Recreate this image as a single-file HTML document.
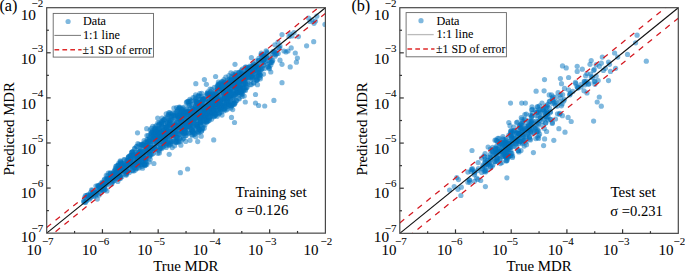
<!DOCTYPE html><html><head><meta charset="utf-8"><style>html,body{margin:0;padding:0;background:#fff;width:685px;height:271px;overflow:hidden}svg{display:block;font-family:"Liberation Serif", serif}text{stroke:#000;stroke-width:0.05px;fill:#000}</style></head><body>
<svg width="685" height="271" viewBox="0 0 685 271" font-family='"Liberation Serif", serif' fill="#111">
<defs><clipPath id="ca"><rect x="46.70" y="7.70" width="278.70" height="225.45"/></clipPath><clipPath id="cb"><rect x="399.80" y="7.70" width="278.50" height="225.65"/></clipPath></defs>
<rect width="685" height="271" fill="#fff"/>
<g clip-path="url(#ca)" fill="#0072BD" fill-opacity="0.5">
<circle cx="83.6" cy="201.8" r="2.6"/>
<circle cx="84.0" cy="200.7" r="2.6"/>
<circle cx="84.6" cy="197.6" r="2.6"/>
<circle cx="84.6" cy="202.1" r="2.6"/>
<circle cx="86.4" cy="199.7" r="2.6"/>
<circle cx="85.5" cy="202.5" r="2.6"/>
<circle cx="86.6" cy="195.6" r="2.6"/>
<circle cx="86.7" cy="200.7" r="2.6"/>
<circle cx="87.6" cy="195.2" r="2.6"/>
<circle cx="88.2" cy="194.9" r="2.6"/>
<circle cx="89.0" cy="197.2" r="2.6"/>
<circle cx="89.2" cy="199.2" r="2.6"/>
<circle cx="90.0" cy="198.2" r="2.6"/>
<circle cx="90.5" cy="195.2" r="2.6"/>
<circle cx="90.3" cy="194.7" r="2.6"/>
<circle cx="90.5" cy="192.5" r="2.6"/>
<circle cx="91.4" cy="195.3" r="2.6"/>
<circle cx="91.1" cy="197.0" r="2.6"/>
<circle cx="92.3" cy="190.3" r="2.6"/>
<circle cx="91.6" cy="189.8" r="2.6"/>
<circle cx="92.1" cy="195.2" r="2.6"/>
<circle cx="93.2" cy="193.2" r="2.6"/>
<circle cx="92.7" cy="193.4" r="2.6"/>
<circle cx="93.6" cy="196.4" r="2.6"/>
<circle cx="94.4" cy="192.1" r="2.6"/>
<circle cx="94.0" cy="192.7" r="2.6"/>
<circle cx="95.4" cy="196.1" r="2.6"/>
<circle cx="94.9" cy="191.8" r="2.6"/>
<circle cx="94.7" cy="194.7" r="2.6"/>
<circle cx="96.1" cy="192.0" r="2.6"/>
<circle cx="95.9" cy="186.1" r="2.6"/>
<circle cx="96.5" cy="193.0" r="2.6"/>
<circle cx="97.1" cy="191.1" r="2.6"/>
<circle cx="97.3" cy="199.1" r="2.6"/>
<circle cx="97.3" cy="194.3" r="2.6"/>
<circle cx="98.1" cy="186.1" r="2.6"/>
<circle cx="97.7" cy="185.7" r="2.6"/>
<circle cx="97.6" cy="189.1" r="2.6"/>
<circle cx="98.9" cy="185.5" r="2.6"/>
<circle cx="99.1" cy="195.1" r="2.6"/>
<circle cx="98.8" cy="187.4" r="2.6"/>
<circle cx="99.3" cy="185.8" r="2.6"/>
<circle cx="99.6" cy="188.4" r="2.6"/>
<circle cx="100.3" cy="187.0" r="2.6"/>
<circle cx="100.5" cy="184.0" r="2.6"/>
<circle cx="100.5" cy="189.9" r="2.6"/>
<circle cx="101.5" cy="189.5" r="2.6"/>
<circle cx="100.9" cy="188.4" r="2.6"/>
<circle cx="101.0" cy="192.7" r="2.6"/>
<circle cx="102.3" cy="184.5" r="2.6"/>
<circle cx="102.4" cy="185.2" r="2.6"/>
<circle cx="101.7" cy="190.4" r="2.6"/>
<circle cx="101.9" cy="182.4" r="2.6"/>
<circle cx="102.8" cy="183.7" r="2.6"/>
<circle cx="103.4" cy="190.4" r="2.6"/>
<circle cx="103.5" cy="185.4" r="2.6"/>
<circle cx="102.7" cy="183.0" r="2.6"/>
<circle cx="103.1" cy="182.8" r="2.6"/>
<circle cx="104.3" cy="179.8" r="2.6"/>
<circle cx="104.4" cy="187.1" r="2.6"/>
<circle cx="104.3" cy="185.8" r="2.6"/>
<circle cx="103.8" cy="187.9" r="2.6"/>
<circle cx="104.9" cy="189.6" r="2.6"/>
<circle cx="105.2" cy="189.3" r="2.6"/>
<circle cx="104.7" cy="179.0" r="2.6"/>
<circle cx="105.3" cy="184.4" r="2.6"/>
<circle cx="105.9" cy="180.3" r="2.6"/>
<circle cx="106.5" cy="182.7" r="2.6"/>
<circle cx="106.0" cy="182.8" r="2.6"/>
<circle cx="106.3" cy="175.4" r="2.6"/>
<circle cx="106.7" cy="178.3" r="2.6"/>
<circle cx="106.8" cy="183.9" r="2.6"/>
<circle cx="107.4" cy="176.2" r="2.6"/>
<circle cx="107.1" cy="180.4" r="2.6"/>
<circle cx="108.0" cy="184.8" r="2.6"/>
<circle cx="107.9" cy="178.8" r="2.6"/>
<circle cx="108.3" cy="173.2" r="2.6"/>
<circle cx="108.2" cy="179.1" r="2.6"/>
<circle cx="109.1" cy="178.4" r="2.6"/>
<circle cx="108.6" cy="178.1" r="2.6"/>
<circle cx="109.3" cy="178.2" r="2.6"/>
<circle cx="109.1" cy="181.2" r="2.6"/>
<circle cx="110.0" cy="172.8" r="2.6"/>
<circle cx="110.2" cy="179.5" r="2.6"/>
<circle cx="110.4" cy="173.4" r="2.6"/>
<circle cx="110.4" cy="176.8" r="2.6"/>
<circle cx="111.4" cy="178.0" r="2.6"/>
<circle cx="110.9" cy="178.5" r="2.6"/>
<circle cx="110.6" cy="173.8" r="2.6"/>
<circle cx="111.3" cy="178.7" r="2.6"/>
<circle cx="112.2" cy="179.6" r="2.6"/>
<circle cx="112.5" cy="181.8" r="2.6"/>
<circle cx="111.9" cy="182.8" r="2.6"/>
<circle cx="111.7" cy="184.1" r="2.6"/>
<circle cx="112.8" cy="175.7" r="2.6"/>
<circle cx="113.2" cy="173.7" r="2.6"/>
<circle cx="112.9" cy="176.9" r="2.6"/>
<circle cx="113.1" cy="173.9" r="2.6"/>
<circle cx="113.3" cy="180.8" r="2.6"/>
<circle cx="113.5" cy="172.2" r="2.6"/>
<circle cx="113.9" cy="175.3" r="2.6"/>
<circle cx="114.3" cy="177.8" r="2.6"/>
<circle cx="114.4" cy="170.5" r="2.6"/>
<circle cx="113.6" cy="175.0" r="2.6"/>
<circle cx="115.4" cy="168.3" r="2.6"/>
<circle cx="115.3" cy="173.0" r="2.6"/>
<circle cx="114.6" cy="180.4" r="2.6"/>
<circle cx="115.1" cy="170.9" r="2.6"/>
<circle cx="114.8" cy="176.1" r="2.6"/>
<circle cx="115.7" cy="174.4" r="2.6"/>
<circle cx="115.8" cy="169.4" r="2.6"/>
<circle cx="115.8" cy="178.5" r="2.6"/>
<circle cx="115.7" cy="176.6" r="2.6"/>
<circle cx="115.8" cy="166.4" r="2.6"/>
<circle cx="116.1" cy="178.1" r="2.6"/>
<circle cx="117.3" cy="175.8" r="2.6"/>
<circle cx="117.3" cy="173.5" r="2.6"/>
<circle cx="117.2" cy="173.7" r="2.6"/>
<circle cx="116.8" cy="172.7" r="2.6"/>
<circle cx="116.9" cy="171.7" r="2.6"/>
<circle cx="116.6" cy="165.9" r="2.6"/>
<circle cx="117.8" cy="165.6" r="2.6"/>
<circle cx="118.3" cy="165.4" r="2.6"/>
<circle cx="117.7" cy="170.9" r="2.6"/>
<circle cx="117.7" cy="172.2" r="2.6"/>
<circle cx="118.5" cy="168.6" r="2.6"/>
<circle cx="118.0" cy="169.1" r="2.6"/>
<circle cx="117.8" cy="181.5" r="2.6"/>
<circle cx="119.0" cy="170.0" r="2.6"/>
<circle cx="118.5" cy="174.4" r="2.6"/>
<circle cx="118.9" cy="164.4" r="2.6"/>
<circle cx="118.8" cy="163.1" r="2.6"/>
<circle cx="119.0" cy="174.0" r="2.6"/>
<circle cx="119.2" cy="178.7" r="2.6"/>
<circle cx="118.8" cy="176.4" r="2.6"/>
<circle cx="120.1" cy="176.2" r="2.6"/>
<circle cx="120.4" cy="178.5" r="2.6"/>
<circle cx="120.2" cy="167.6" r="2.6"/>
<circle cx="120.0" cy="176.3" r="2.6"/>
<circle cx="120.3" cy="177.2" r="2.6"/>
<circle cx="120.2" cy="160.8" r="2.6"/>
<circle cx="120.6" cy="161.7" r="2.6"/>
<circle cx="121.3" cy="163.1" r="2.6"/>
<circle cx="121.1" cy="164.7" r="2.6"/>
<circle cx="120.5" cy="168.1" r="2.6"/>
<circle cx="121.2" cy="164.8" r="2.6"/>
<circle cx="120.6" cy="162.6" r="2.6"/>
<circle cx="120.8" cy="169.0" r="2.6"/>
<circle cx="121.7" cy="174.6" r="2.6"/>
<circle cx="121.9" cy="176.7" r="2.6"/>
<circle cx="122.2" cy="169.2" r="2.6"/>
<circle cx="121.6" cy="164.1" r="2.6"/>
<circle cx="122.2" cy="165.4" r="2.6"/>
<circle cx="121.5" cy="171.5" r="2.6"/>
<circle cx="122.2" cy="165.7" r="2.6"/>
<circle cx="122.8" cy="164.1" r="2.6"/>
<circle cx="122.6" cy="163.3" r="2.6"/>
<circle cx="122.7" cy="170.8" r="2.6"/>
<circle cx="123.0" cy="170.4" r="2.6"/>
<circle cx="123.5" cy="169.0" r="2.6"/>
<circle cx="122.7" cy="165.0" r="2.6"/>
<circle cx="123.6" cy="170.1" r="2.6"/>
<circle cx="124.3" cy="171.4" r="2.6"/>
<circle cx="124.4" cy="167.8" r="2.6"/>
<circle cx="124.0" cy="170.0" r="2.6"/>
<circle cx="124.0" cy="159.5" r="2.6"/>
<circle cx="123.8" cy="167.7" r="2.6"/>
<circle cx="124.5" cy="170.6" r="2.6"/>
<circle cx="125.4" cy="169.3" r="2.6"/>
<circle cx="125.4" cy="165.6" r="2.6"/>
<circle cx="124.9" cy="165.6" r="2.6"/>
<circle cx="124.9" cy="163.7" r="2.6"/>
<circle cx="124.6" cy="159.8" r="2.6"/>
<circle cx="125.7" cy="174.7" r="2.6"/>
<circle cx="125.7" cy="167.3" r="2.6"/>
<circle cx="126.4" cy="175.1" r="2.6"/>
<circle cx="126.1" cy="164.5" r="2.6"/>
<circle cx="126.2" cy="173.2" r="2.6"/>
<circle cx="126.0" cy="171.2" r="2.6"/>
<circle cx="126.8" cy="164.1" r="2.6"/>
<circle cx="126.6" cy="173.6" r="2.6"/>
<circle cx="127.2" cy="164.0" r="2.6"/>
<circle cx="126.8" cy="169.9" r="2.6"/>
<circle cx="126.9" cy="164.4" r="2.6"/>
<circle cx="126.7" cy="160.6" r="2.6"/>
<circle cx="127.7" cy="171.6" r="2.6"/>
<circle cx="127.6" cy="171.0" r="2.6"/>
<circle cx="127.8" cy="158.4" r="2.6"/>
<circle cx="127.8" cy="160.9" r="2.6"/>
<circle cx="128.4" cy="165.3" r="2.6"/>
<circle cx="128.0" cy="161.0" r="2.6"/>
<circle cx="128.8" cy="156.6" r="2.6"/>
<circle cx="128.6" cy="167.3" r="2.6"/>
<circle cx="128.7" cy="157.2" r="2.6"/>
<circle cx="128.9" cy="160.0" r="2.6"/>
<circle cx="129.3" cy="172.6" r="2.6"/>
<circle cx="128.5" cy="156.8" r="2.6"/>
<circle cx="130.1" cy="168.4" r="2.6"/>
<circle cx="130.4" cy="161.5" r="2.6"/>
<circle cx="130.4" cy="159.7" r="2.6"/>
<circle cx="129.7" cy="163.5" r="2.6"/>
<circle cx="130.2" cy="166.1" r="2.6"/>
<circle cx="130.3" cy="162.1" r="2.6"/>
<circle cx="130.1" cy="155.7" r="2.6"/>
<circle cx="131.1" cy="163.9" r="2.6"/>
<circle cx="130.8" cy="155.3" r="2.6"/>
<circle cx="130.6" cy="161.6" r="2.6"/>
<circle cx="131.1" cy="159.9" r="2.6"/>
<circle cx="131.1" cy="157.2" r="2.6"/>
<circle cx="131.0" cy="158.7" r="2.6"/>
<circle cx="131.0" cy="155.3" r="2.6"/>
<circle cx="132.2" cy="170.7" r="2.6"/>
<circle cx="132.0" cy="152.0" r="2.6"/>
<circle cx="131.9" cy="152.0" r="2.6"/>
<circle cx="132.4" cy="164.8" r="2.6"/>
<circle cx="131.8" cy="152.3" r="2.6"/>
<circle cx="131.7" cy="165.1" r="2.6"/>
<circle cx="131.7" cy="161.0" r="2.6"/>
<circle cx="132.7" cy="167.1" r="2.6"/>
<circle cx="132.8" cy="165.9" r="2.6"/>
<circle cx="133.0" cy="153.4" r="2.6"/>
<circle cx="132.9" cy="154.9" r="2.6"/>
<circle cx="132.9" cy="163.7" r="2.6"/>
<circle cx="132.6" cy="170.2" r="2.6"/>
<circle cx="132.9" cy="151.5" r="2.6"/>
<circle cx="134.2" cy="158.4" r="2.6"/>
<circle cx="133.7" cy="164.6" r="2.6"/>
<circle cx="134.2" cy="157.2" r="2.6"/>
<circle cx="133.9" cy="163.0" r="2.6"/>
<circle cx="133.7" cy="156.0" r="2.6"/>
<circle cx="133.9" cy="154.9" r="2.6"/>
<circle cx="133.7" cy="171.0" r="2.6"/>
<circle cx="135.3" cy="170.1" r="2.6"/>
<circle cx="135.0" cy="148.7" r="2.6"/>
<circle cx="134.7" cy="167.7" r="2.6"/>
<circle cx="134.5" cy="167.2" r="2.6"/>
<circle cx="135.3" cy="165.3" r="2.6"/>
<circle cx="134.6" cy="148.4" r="2.6"/>
<circle cx="135.4" cy="158.1" r="2.6"/>
<circle cx="135.5" cy="153.6" r="2.6"/>
<circle cx="135.8" cy="162.4" r="2.6"/>
<circle cx="136.3" cy="146.5" r="2.6"/>
<circle cx="136.1" cy="168.5" r="2.6"/>
<circle cx="136.0" cy="162.3" r="2.6"/>
<circle cx="136.5" cy="158.3" r="2.6"/>
<circle cx="135.9" cy="152.0" r="2.6"/>
<circle cx="136.3" cy="161.3" r="2.6"/>
<circle cx="137.3" cy="155.2" r="2.6"/>
<circle cx="136.9" cy="154.3" r="2.6"/>
<circle cx="136.6" cy="162.3" r="2.6"/>
<circle cx="136.7" cy="162.9" r="2.6"/>
<circle cx="137.1" cy="146.4" r="2.6"/>
<circle cx="137.4" cy="168.1" r="2.6"/>
<circle cx="136.6" cy="156.8" r="2.6"/>
<circle cx="137.9" cy="159.7" r="2.6"/>
<circle cx="138.1" cy="155.0" r="2.6"/>
<circle cx="138.2" cy="156.7" r="2.6"/>
<circle cx="137.8" cy="164.8" r="2.6"/>
<circle cx="137.9" cy="143.6" r="2.6"/>
<circle cx="137.7" cy="158.5" r="2.6"/>
<circle cx="138.1" cy="165.8" r="2.6"/>
<circle cx="138.5" cy="154.5" r="2.6"/>
<circle cx="139.2" cy="164.0" r="2.6"/>
<circle cx="138.6" cy="161.7" r="2.6"/>
<circle cx="139.4" cy="162.3" r="2.6"/>
<circle cx="138.6" cy="151.8" r="2.6"/>
<circle cx="139.1" cy="167.9" r="2.6"/>
<circle cx="138.9" cy="144.6" r="2.6"/>
<circle cx="139.3" cy="151.6" r="2.6"/>
<circle cx="138.6" cy="158.4" r="2.6"/>
<circle cx="139.6" cy="157.9" r="2.6"/>
<circle cx="140.1" cy="150.7" r="2.6"/>
<circle cx="139.7" cy="163.2" r="2.6"/>
<circle cx="140.2" cy="152.4" r="2.6"/>
<circle cx="139.7" cy="152.0" r="2.6"/>
<circle cx="139.6" cy="154.1" r="2.6"/>
<circle cx="140.1" cy="157.7" r="2.6"/>
<circle cx="140.2" cy="148.5" r="2.6"/>
<circle cx="141.5" cy="151.7" r="2.6"/>
<circle cx="140.9" cy="158.0" r="2.6"/>
<circle cx="141.5" cy="165.2" r="2.6"/>
<circle cx="141.2" cy="149.0" r="2.6"/>
<circle cx="141.4" cy="144.3" r="2.6"/>
<circle cx="140.9" cy="164.2" r="2.6"/>
<circle cx="141.0" cy="155.6" r="2.6"/>
<circle cx="141.1" cy="144.5" r="2.6"/>
<circle cx="141.9" cy="164.4" r="2.6"/>
<circle cx="141.6" cy="161.2" r="2.6"/>
<circle cx="142.4" cy="156.3" r="2.6"/>
<circle cx="142.3" cy="155.5" r="2.6"/>
<circle cx="142.4" cy="157.0" r="2.6"/>
<circle cx="142.0" cy="159.4" r="2.6"/>
<circle cx="141.9" cy="166.4" r="2.6"/>
<circle cx="141.7" cy="145.8" r="2.6"/>
<circle cx="143.3" cy="152.1" r="2.6"/>
<circle cx="142.7" cy="144.9" r="2.6"/>
<circle cx="143.0" cy="152.0" r="2.6"/>
<circle cx="142.7" cy="144.9" r="2.6"/>
<circle cx="143.1" cy="156.3" r="2.6"/>
<circle cx="142.5" cy="153.3" r="2.6"/>
<circle cx="143.1" cy="162.1" r="2.6"/>
<circle cx="142.8" cy="161.5" r="2.6"/>
<circle cx="143.9" cy="143.2" r="2.6"/>
<circle cx="144.1" cy="140.7" r="2.6"/>
<circle cx="143.7" cy="158.5" r="2.6"/>
<circle cx="143.7" cy="155.0" r="2.6"/>
<circle cx="143.6" cy="144.9" r="2.6"/>
<circle cx="143.6" cy="151.6" r="2.6"/>
<circle cx="143.5" cy="153.7" r="2.6"/>
<circle cx="144.3" cy="164.4" r="2.6"/>
<circle cx="143.6" cy="159.7" r="2.6"/>
<circle cx="144.6" cy="164.5" r="2.6"/>
<circle cx="145.3" cy="165.3" r="2.6"/>
<circle cx="145.0" cy="165.4" r="2.6"/>
<circle cx="145.4" cy="151.9" r="2.6"/>
<circle cx="145.4" cy="160.1" r="2.6"/>
<circle cx="145.3" cy="148.1" r="2.6"/>
<circle cx="144.8" cy="163.0" r="2.6"/>
<circle cx="145.4" cy="158.1" r="2.6"/>
<circle cx="145.0" cy="145.7" r="2.6"/>
<circle cx="145.7" cy="142.1" r="2.6"/>
<circle cx="146.2" cy="158.7" r="2.6"/>
<circle cx="145.6" cy="158.1" r="2.6"/>
<circle cx="146.1" cy="163.7" r="2.6"/>
<circle cx="146.1" cy="161.5" r="2.6"/>
<circle cx="146.5" cy="153.9" r="2.6"/>
<circle cx="145.9" cy="148.4" r="2.6"/>
<circle cx="146.1" cy="148.7" r="2.6"/>
<circle cx="145.9" cy="158.5" r="2.6"/>
<circle cx="146.8" cy="164.5" r="2.6"/>
<circle cx="147.5" cy="154.3" r="2.6"/>
<circle cx="146.5" cy="145.9" r="2.6"/>
<circle cx="147.1" cy="139.7" r="2.6"/>
<circle cx="147.4" cy="150.1" r="2.6"/>
<circle cx="147.2" cy="141.9" r="2.6"/>
<circle cx="146.9" cy="135.5" r="2.6"/>
<circle cx="146.7" cy="145.6" r="2.6"/>
<circle cx="147.1" cy="143.5" r="2.6"/>
<circle cx="147.0" cy="153.2" r="2.6"/>
<circle cx="147.6" cy="148.3" r="2.6"/>
<circle cx="148.4" cy="152.8" r="2.6"/>
<circle cx="147.5" cy="142.8" r="2.6"/>
<circle cx="148.1" cy="151.8" r="2.6"/>
<circle cx="147.9" cy="152.2" r="2.6"/>
<circle cx="148.4" cy="147.4" r="2.6"/>
<circle cx="147.9" cy="149.0" r="2.6"/>
<circle cx="148.3" cy="135.7" r="2.6"/>
<circle cx="148.4" cy="149.5" r="2.6"/>
<circle cx="148.1" cy="139.7" r="2.6"/>
<circle cx="149.3" cy="140.4" r="2.6"/>
<circle cx="148.8" cy="141.3" r="2.6"/>
<circle cx="149.3" cy="157.1" r="2.6"/>
<circle cx="149.2" cy="162.0" r="2.6"/>
<circle cx="149.2" cy="147.1" r="2.6"/>
<circle cx="148.7" cy="147.1" r="2.6"/>
<circle cx="149.2" cy="142.0" r="2.6"/>
<circle cx="149.3" cy="150.2" r="2.6"/>
<circle cx="148.9" cy="145.5" r="2.6"/>
<circle cx="149.8" cy="154.8" r="2.6"/>
<circle cx="150.4" cy="150.2" r="2.6"/>
<circle cx="149.7" cy="138.5" r="2.6"/>
<circle cx="150.4" cy="143.7" r="2.6"/>
<circle cx="149.8" cy="137.3" r="2.6"/>
<circle cx="150.1" cy="155.8" r="2.6"/>
<circle cx="150.2" cy="159.2" r="2.6"/>
<circle cx="150.2" cy="130.1" r="2.6"/>
<circle cx="149.9" cy="147.7" r="2.6"/>
<circle cx="151.1" cy="141.4" r="2.6"/>
<circle cx="150.6" cy="154.3" r="2.6"/>
<circle cx="151.4" cy="132.9" r="2.6"/>
<circle cx="150.5" cy="133.8" r="2.6"/>
<circle cx="151.1" cy="148.5" r="2.6"/>
<circle cx="151.2" cy="148.4" r="2.6"/>
<circle cx="150.9" cy="145.8" r="2.6"/>
<circle cx="150.6" cy="150.3" r="2.6"/>
<circle cx="151.4" cy="128.4" r="2.6"/>
<circle cx="151.6" cy="134.0" r="2.6"/>
<circle cx="152.3" cy="151.2" r="2.6"/>
<circle cx="151.8" cy="147.0" r="2.6"/>
<circle cx="152.3" cy="131.1" r="2.6"/>
<circle cx="151.9" cy="137.1" r="2.6"/>
<circle cx="151.8" cy="135.4" r="2.6"/>
<circle cx="151.9" cy="132.0" r="2.6"/>
<circle cx="152.0" cy="154.3" r="2.6"/>
<circle cx="152.9" cy="148.5" r="2.6"/>
<circle cx="152.8" cy="142.0" r="2.6"/>
<circle cx="153.4" cy="135.1" r="2.6"/>
<circle cx="152.7" cy="149.1" r="2.6"/>
<circle cx="153.3" cy="132.4" r="2.6"/>
<circle cx="152.5" cy="139.1" r="2.6"/>
<circle cx="152.7" cy="126.3" r="2.6"/>
<circle cx="152.8" cy="141.2" r="2.6"/>
<circle cx="152.8" cy="139.2" r="2.6"/>
<circle cx="154.1" cy="135.1" r="2.6"/>
<circle cx="154.2" cy="146.8" r="2.6"/>
<circle cx="154.1" cy="139.0" r="2.6"/>
<circle cx="153.9" cy="136.3" r="2.6"/>
<circle cx="153.5" cy="153.3" r="2.6"/>
<circle cx="154.4" cy="132.6" r="2.6"/>
<circle cx="153.9" cy="147.6" r="2.6"/>
<circle cx="154.0" cy="139.9" r="2.6"/>
<circle cx="154.3" cy="147.8" r="2.6"/>
<circle cx="154.7" cy="132.8" r="2.6"/>
<circle cx="154.7" cy="130.6" r="2.6"/>
<circle cx="155.1" cy="145.0" r="2.6"/>
<circle cx="155.4" cy="136.5" r="2.6"/>
<circle cx="154.8" cy="129.1" r="2.6"/>
<circle cx="155.3" cy="126.3" r="2.6"/>
<circle cx="154.7" cy="128.2" r="2.6"/>
<circle cx="154.7" cy="138.2" r="2.6"/>
<circle cx="155.5" cy="129.1" r="2.6"/>
<circle cx="155.6" cy="149.0" r="2.6"/>
<circle cx="156.3" cy="149.6" r="2.6"/>
<circle cx="156.1" cy="131.3" r="2.6"/>
<circle cx="155.9" cy="128.1" r="2.6"/>
<circle cx="156.3" cy="133.4" r="2.6"/>
<circle cx="156.0" cy="138.4" r="2.6"/>
<circle cx="156.1" cy="131.9" r="2.6"/>
<circle cx="156.4" cy="142.9" r="2.6"/>
<circle cx="156.2" cy="138.3" r="2.6"/>
<circle cx="157.4" cy="142.2" r="2.6"/>
<circle cx="157.2" cy="137.0" r="2.6"/>
<circle cx="157.0" cy="130.8" r="2.6"/>
<circle cx="156.6" cy="139.5" r="2.6"/>
<circle cx="157.2" cy="143.9" r="2.6"/>
<circle cx="156.8" cy="125.2" r="2.6"/>
<circle cx="157.1" cy="134.7" r="2.6"/>
<circle cx="157.4" cy="140.9" r="2.6"/>
<circle cx="157.3" cy="140.3" r="2.6"/>
<circle cx="158.0" cy="138.0" r="2.6"/>
<circle cx="158.4" cy="143.8" r="2.6"/>
<circle cx="157.6" cy="135.2" r="2.6"/>
<circle cx="158.0" cy="122.5" r="2.6"/>
<circle cx="158.3" cy="132.2" r="2.6"/>
<circle cx="157.7" cy="118.1" r="2.6"/>
<circle cx="157.9" cy="146.7" r="2.6"/>
<circle cx="157.9" cy="153.3" r="2.6"/>
<circle cx="157.9" cy="129.1" r="2.6"/>
<circle cx="157.9" cy="133.3" r="2.6"/>
<circle cx="158.7" cy="128.4" r="2.6"/>
<circle cx="159.4" cy="152.9" r="2.6"/>
<circle cx="158.9" cy="138.4" r="2.6"/>
<circle cx="159.3" cy="124.3" r="2.6"/>
<circle cx="159.1" cy="150.7" r="2.6"/>
<circle cx="159.5" cy="129.5" r="2.6"/>
<circle cx="159.3" cy="139.4" r="2.6"/>
<circle cx="159.0" cy="132.9" r="2.6"/>
<circle cx="158.6" cy="136.8" r="2.6"/>
<circle cx="158.8" cy="124.9" r="2.6"/>
<circle cx="159.7" cy="132.8" r="2.6"/>
<circle cx="159.8" cy="141.8" r="2.6"/>
<circle cx="160.0" cy="129.0" r="2.6"/>
<circle cx="160.2" cy="139.2" r="2.6"/>
<circle cx="160.4" cy="148.1" r="2.6"/>
<circle cx="160.4" cy="145.0" r="2.6"/>
<circle cx="159.6" cy="148.8" r="2.6"/>
<circle cx="159.5" cy="134.0" r="2.6"/>
<circle cx="160.2" cy="133.9" r="2.6"/>
<circle cx="159.6" cy="122.9" r="2.6"/>
<circle cx="161.4" cy="131.5" r="2.6"/>
<circle cx="160.7" cy="138.9" r="2.6"/>
<circle cx="161.2" cy="122.1" r="2.6"/>
<circle cx="161.3" cy="124.4" r="2.6"/>
<circle cx="161.0" cy="139.1" r="2.6"/>
<circle cx="160.9" cy="147.9" r="2.6"/>
<circle cx="160.7" cy="127.7" r="2.6"/>
<circle cx="160.6" cy="134.3" r="2.6"/>
<circle cx="160.6" cy="132.1" r="2.6"/>
<circle cx="161.4" cy="123.1" r="2.6"/>
<circle cx="162.0" cy="133.9" r="2.6"/>
<circle cx="161.9" cy="124.6" r="2.6"/>
<circle cx="161.6" cy="148.7" r="2.6"/>
<circle cx="162.1" cy="118.1" r="2.6"/>
<circle cx="162.2" cy="137.3" r="2.6"/>
<circle cx="162.0" cy="120.8" r="2.6"/>
<circle cx="162.2" cy="135.8" r="2.6"/>
<circle cx="161.8" cy="132.3" r="2.6"/>
<circle cx="162.0" cy="126.6" r="2.6"/>
<circle cx="161.7" cy="141.8" r="2.6"/>
<circle cx="162.1" cy="131.3" r="2.6"/>
<circle cx="162.9" cy="144.0" r="2.6"/>
<circle cx="163.5" cy="131.5" r="2.6"/>
<circle cx="163.3" cy="144.6" r="2.6"/>
<circle cx="162.8" cy="127.0" r="2.6"/>
<circle cx="162.5" cy="121.7" r="2.6"/>
<circle cx="163.4" cy="120.2" r="2.6"/>
<circle cx="162.5" cy="141.0" r="2.6"/>
<circle cx="163.1" cy="147.1" r="2.6"/>
<circle cx="163.3" cy="135.6" r="2.6"/>
<circle cx="163.1" cy="122.7" r="2.6"/>
<circle cx="164.2" cy="123.4" r="2.6"/>
<circle cx="164.0" cy="138.1" r="2.6"/>
<circle cx="163.5" cy="137.5" r="2.6"/>
<circle cx="164.4" cy="136.2" r="2.6"/>
<circle cx="164.3" cy="119.6" r="2.6"/>
<circle cx="163.8" cy="146.1" r="2.6"/>
<circle cx="163.8" cy="129.7" r="2.6"/>
<circle cx="164.4" cy="137.2" r="2.6"/>
<circle cx="163.5" cy="134.7" r="2.6"/>
<circle cx="164.1" cy="143.0" r="2.6"/>
<circle cx="163.9" cy="130.8" r="2.6"/>
<circle cx="165.5" cy="132.2" r="2.6"/>
<circle cx="165.1" cy="127.6" r="2.6"/>
<circle cx="164.5" cy="119.4" r="2.6"/>
<circle cx="164.6" cy="138.2" r="2.6"/>
<circle cx="164.6" cy="134.2" r="2.6"/>
<circle cx="165.2" cy="133.0" r="2.6"/>
<circle cx="164.7" cy="139.9" r="2.6"/>
<circle cx="165.2" cy="141.3" r="2.6"/>
<circle cx="165.2" cy="133.1" r="2.6"/>
<circle cx="165.2" cy="136.2" r="2.6"/>
<circle cx="165.5" cy="138.9" r="2.6"/>
<circle cx="166.2" cy="113.9" r="2.6"/>
<circle cx="165.6" cy="127.6" r="2.6"/>
<circle cx="165.7" cy="138.9" r="2.6"/>
<circle cx="165.9" cy="127.3" r="2.6"/>
<circle cx="165.9" cy="131.2" r="2.6"/>
<circle cx="165.9" cy="142.1" r="2.6"/>
<circle cx="166.1" cy="145.3" r="2.6"/>
<circle cx="166.3" cy="126.9" r="2.6"/>
<circle cx="165.8" cy="133.7" r="2.6"/>
<circle cx="166.2" cy="147.4" r="2.6"/>
<circle cx="165.8" cy="117.9" r="2.6"/>
<circle cx="166.8" cy="136.8" r="2.6"/>
<circle cx="166.9" cy="143.4" r="2.6"/>
<circle cx="167.1" cy="118.0" r="2.6"/>
<circle cx="166.5" cy="133.0" r="2.6"/>
<circle cx="167.1" cy="127.3" r="2.6"/>
<circle cx="167.4" cy="122.3" r="2.6"/>
<circle cx="167.3" cy="141.5" r="2.6"/>
<circle cx="167.4" cy="122.7" r="2.6"/>
<circle cx="167.2" cy="126.5" r="2.6"/>
<circle cx="167.1" cy="127.6" r="2.6"/>
<circle cx="166.7" cy="133.5" r="2.6"/>
<circle cx="168.2" cy="130.6" r="2.6"/>
<circle cx="167.7" cy="142.9" r="2.6"/>
<circle cx="168.3" cy="137.8" r="2.6"/>
<circle cx="168.3" cy="144.7" r="2.6"/>
<circle cx="168.4" cy="131.9" r="2.6"/>
<circle cx="168.0" cy="138.7" r="2.6"/>
<circle cx="167.7" cy="123.7" r="2.6"/>
<circle cx="167.9" cy="136.1" r="2.6"/>
<circle cx="167.9" cy="125.7" r="2.6"/>
<circle cx="168.5" cy="131.0" r="2.6"/>
<circle cx="168.1" cy="115.8" r="2.6"/>
<circle cx="168.8" cy="132.0" r="2.6"/>
<circle cx="168.5" cy="131.1" r="2.6"/>
<circle cx="169.4" cy="145.4" r="2.6"/>
<circle cx="169.3" cy="121.6" r="2.6"/>
<circle cx="169.3" cy="143.9" r="2.6"/>
<circle cx="169.5" cy="125.5" r="2.6"/>
<circle cx="168.7" cy="112.9" r="2.6"/>
<circle cx="168.6" cy="114.5" r="2.6"/>
<circle cx="169.4" cy="136.3" r="2.6"/>
<circle cx="168.6" cy="120.6" r="2.6"/>
<circle cx="169.5" cy="124.6" r="2.6"/>
<circle cx="170.1" cy="131.3" r="2.6"/>
<circle cx="169.9" cy="123.4" r="2.6"/>
<circle cx="170.5" cy="144.2" r="2.6"/>
<circle cx="169.8" cy="112.5" r="2.6"/>
<circle cx="170.4" cy="142.1" r="2.6"/>
<circle cx="169.5" cy="119.5" r="2.6"/>
<circle cx="170.5" cy="124.6" r="2.6"/>
<circle cx="170.3" cy="116.1" r="2.6"/>
<circle cx="170.2" cy="114.2" r="2.6"/>
<circle cx="170.3" cy="131.4" r="2.6"/>
<circle cx="169.8" cy="122.3" r="2.6"/>
<circle cx="170.6" cy="131.5" r="2.6"/>
<circle cx="170.5" cy="134.4" r="2.6"/>
<circle cx="171.4" cy="128.8" r="2.6"/>
<circle cx="171.4" cy="142.8" r="2.6"/>
<circle cx="170.6" cy="130.5" r="2.6"/>
<circle cx="171.4" cy="114.0" r="2.6"/>
<circle cx="170.8" cy="120.2" r="2.6"/>
<circle cx="171.0" cy="119.9" r="2.6"/>
<circle cx="170.6" cy="132.3" r="2.6"/>
<circle cx="171.1" cy="133.5" r="2.6"/>
<circle cx="170.8" cy="140.6" r="2.6"/>
<circle cx="172.3" cy="119.6" r="2.6"/>
<circle cx="172.0" cy="116.0" r="2.6"/>
<circle cx="171.6" cy="141.4" r="2.6"/>
<circle cx="172.2" cy="147.6" r="2.6"/>
<circle cx="171.8" cy="126.7" r="2.6"/>
<circle cx="171.9" cy="117.2" r="2.6"/>
<circle cx="172.5" cy="135.0" r="2.6"/>
<circle cx="172.4" cy="134.3" r="2.6"/>
<circle cx="171.8" cy="135.3" r="2.6"/>
<circle cx="171.5" cy="132.3" r="2.6"/>
<circle cx="171.5" cy="124.5" r="2.6"/>
<circle cx="172.7" cy="131.7" r="2.6"/>
<circle cx="172.7" cy="141.3" r="2.6"/>
<circle cx="173.3" cy="131.2" r="2.6"/>
<circle cx="172.7" cy="131.9" r="2.6"/>
<circle cx="173.1" cy="112.8" r="2.6"/>
<circle cx="173.1" cy="126.0" r="2.6"/>
<circle cx="173.3" cy="133.9" r="2.6"/>
<circle cx="173.2" cy="128.2" r="2.6"/>
<circle cx="172.6" cy="134.7" r="2.6"/>
<circle cx="172.8" cy="130.6" r="2.6"/>
<circle cx="172.5" cy="134.9" r="2.6"/>
<circle cx="174.4" cy="117.7" r="2.6"/>
<circle cx="174.3" cy="115.7" r="2.6"/>
<circle cx="173.9" cy="115.0" r="2.6"/>
<circle cx="173.9" cy="139.0" r="2.6"/>
<circle cx="173.6" cy="127.0" r="2.6"/>
<circle cx="173.8" cy="134.9" r="2.6"/>
<circle cx="173.9" cy="108.0" r="2.6"/>
<circle cx="174.5" cy="145.8" r="2.6"/>
<circle cx="174.0" cy="134.4" r="2.6"/>
<circle cx="174.5" cy="124.6" r="2.6"/>
<circle cx="173.6" cy="115.6" r="2.6"/>
<circle cx="174.5" cy="125.7" r="2.6"/>
<circle cx="174.7" cy="133.1" r="2.6"/>
<circle cx="175.1" cy="129.7" r="2.6"/>
<circle cx="175.4" cy="124.8" r="2.6"/>
<circle cx="174.5" cy="121.7" r="2.6"/>
<circle cx="175.0" cy="126.0" r="2.6"/>
<circle cx="174.9" cy="113.1" r="2.6"/>
<circle cx="175.4" cy="129.4" r="2.6"/>
<circle cx="175.2" cy="128.8" r="2.6"/>
<circle cx="175.4" cy="137.6" r="2.6"/>
<circle cx="175.3" cy="123.5" r="2.6"/>
<circle cx="176.3" cy="141.2" r="2.6"/>
<circle cx="175.8" cy="116.7" r="2.6"/>
<circle cx="176.3" cy="142.6" r="2.6"/>
<circle cx="175.6" cy="133.7" r="2.6"/>
<circle cx="176.5" cy="107.5" r="2.6"/>
<circle cx="176.1" cy="125.9" r="2.6"/>
<circle cx="175.6" cy="126.9" r="2.6"/>
<circle cx="175.5" cy="126.0" r="2.6"/>
<circle cx="176.3" cy="142.2" r="2.6"/>
<circle cx="176.1" cy="136.5" r="2.6"/>
<circle cx="175.5" cy="141.7" r="2.6"/>
<circle cx="176.8" cy="131.6" r="2.6"/>
<circle cx="177.4" cy="111.2" r="2.6"/>
<circle cx="176.9" cy="125.3" r="2.6"/>
<circle cx="176.8" cy="137.9" r="2.6"/>
<circle cx="176.6" cy="130.5" r="2.6"/>
<circle cx="176.8" cy="137.3" r="2.6"/>
<circle cx="177.0" cy="122.0" r="2.6"/>
<circle cx="176.6" cy="112.2" r="2.6"/>
<circle cx="176.8" cy="122.1" r="2.6"/>
<circle cx="177.0" cy="111.0" r="2.6"/>
<circle cx="177.2" cy="115.1" r="2.6"/>
<circle cx="178.0" cy="116.2" r="2.6"/>
<circle cx="177.8" cy="116.0" r="2.6"/>
<circle cx="178.0" cy="115.0" r="2.6"/>
<circle cx="177.5" cy="127.8" r="2.6"/>
<circle cx="177.7" cy="137.6" r="2.6"/>
<circle cx="178.0" cy="117.2" r="2.6"/>
<circle cx="177.8" cy="142.0" r="2.6"/>
<circle cx="178.4" cy="126.9" r="2.6"/>
<circle cx="177.9" cy="109.4" r="2.6"/>
<circle cx="177.6" cy="133.1" r="2.6"/>
<circle cx="178.2" cy="141.0" r="2.6"/>
<circle cx="177.9" cy="119.1" r="2.6"/>
<circle cx="179.3" cy="127.5" r="2.6"/>
<circle cx="179.2" cy="107.1" r="2.6"/>
<circle cx="179.0" cy="122.3" r="2.6"/>
<circle cx="178.6" cy="118.2" r="2.6"/>
<circle cx="179.1" cy="142.0" r="2.6"/>
<circle cx="179.5" cy="124.7" r="2.6"/>
<circle cx="179.4" cy="108.3" r="2.6"/>
<circle cx="178.9" cy="133.2" r="2.6"/>
<circle cx="178.8" cy="108.0" r="2.6"/>
<circle cx="178.9" cy="126.2" r="2.6"/>
<circle cx="179.3" cy="134.4" r="2.6"/>
<circle cx="179.8" cy="112.2" r="2.6"/>
<circle cx="180.1" cy="126.3" r="2.6"/>
<circle cx="179.8" cy="138.6" r="2.6"/>
<circle cx="180.3" cy="128.0" r="2.6"/>
<circle cx="180.4" cy="126.7" r="2.6"/>
<circle cx="180.1" cy="107.3" r="2.6"/>
<circle cx="180.4" cy="134.2" r="2.6"/>
<circle cx="180.0" cy="114.5" r="2.6"/>
<circle cx="179.9" cy="119.4" r="2.6"/>
<circle cx="179.9" cy="113.9" r="2.6"/>
<circle cx="179.6" cy="117.8" r="2.6"/>
<circle cx="180.1" cy="120.0" r="2.6"/>
<circle cx="181.5" cy="111.3" r="2.6"/>
<circle cx="181.5" cy="109.0" r="2.6"/>
<circle cx="181.3" cy="124.0" r="2.6"/>
<circle cx="181.5" cy="116.3" r="2.6"/>
<circle cx="181.0" cy="128.4" r="2.6"/>
<circle cx="181.2" cy="137.2" r="2.6"/>
<circle cx="180.9" cy="145.2" r="2.6"/>
<circle cx="181.0" cy="115.3" r="2.6"/>
<circle cx="180.7" cy="121.6" r="2.6"/>
<circle cx="181.1" cy="127.6" r="2.6"/>
<circle cx="181.1" cy="140.8" r="2.6"/>
<circle cx="181.3" cy="119.7" r="2.6"/>
<circle cx="182.3" cy="131.5" r="2.6"/>
<circle cx="182.2" cy="122.5" r="2.6"/>
<circle cx="182.1" cy="122.2" r="2.6"/>
<circle cx="182.0" cy="127.7" r="2.6"/>
<circle cx="181.6" cy="112.4" r="2.6"/>
<circle cx="181.6" cy="131.8" r="2.6"/>
<circle cx="182.0" cy="110.2" r="2.6"/>
<circle cx="182.1" cy="117.3" r="2.6"/>
<circle cx="182.3" cy="123.9" r="2.6"/>
<circle cx="181.9" cy="130.2" r="2.6"/>
<circle cx="181.6" cy="113.7" r="2.6"/>
<circle cx="182.1" cy="122.9" r="2.6"/>
<circle cx="182.6" cy="117.4" r="2.6"/>
<circle cx="182.9" cy="108.0" r="2.6"/>
<circle cx="183.4" cy="121.7" r="2.6"/>
<circle cx="182.8" cy="124.9" r="2.6"/>
<circle cx="183.1" cy="125.4" r="2.6"/>
<circle cx="183.0" cy="113.2" r="2.6"/>
<circle cx="183.2" cy="122.1" r="2.6"/>
<circle cx="183.4" cy="114.6" r="2.6"/>
<circle cx="183.3" cy="132.4" r="2.6"/>
<circle cx="182.9" cy="109.6" r="2.6"/>
<circle cx="182.8" cy="139.1" r="2.6"/>
<circle cx="182.9" cy="131.7" r="2.6"/>
<circle cx="184.3" cy="107.0" r="2.6"/>
<circle cx="183.7" cy="111.5" r="2.6"/>
<circle cx="183.5" cy="111.2" r="2.6"/>
<circle cx="183.8" cy="130.0" r="2.6"/>
<circle cx="183.6" cy="128.7" r="2.6"/>
<circle cx="183.6" cy="133.5" r="2.6"/>
<circle cx="184.3" cy="133.5" r="2.6"/>
<circle cx="184.2" cy="115.5" r="2.6"/>
<circle cx="183.7" cy="138.1" r="2.6"/>
<circle cx="184.0" cy="113.1" r="2.6"/>
<circle cx="183.8" cy="128.7" r="2.6"/>
<circle cx="184.1" cy="120.8" r="2.6"/>
<circle cx="184.7" cy="124.5" r="2.6"/>
<circle cx="185.0" cy="129.9" r="2.6"/>
<circle cx="184.9" cy="130.6" r="2.6"/>
<circle cx="185.1" cy="129.6" r="2.6"/>
<circle cx="184.6" cy="116.2" r="2.6"/>
<circle cx="184.8" cy="133.6" r="2.6"/>
<circle cx="184.9" cy="131.4" r="2.6"/>
<circle cx="184.8" cy="129.4" r="2.6"/>
<circle cx="184.7" cy="113.3" r="2.6"/>
<circle cx="184.8" cy="128.5" r="2.6"/>
<circle cx="185.3" cy="135.8" r="2.6"/>
<circle cx="184.8" cy="124.2" r="2.6"/>
<circle cx="186.2" cy="115.2" r="2.6"/>
<circle cx="186.2" cy="116.4" r="2.6"/>
<circle cx="185.9" cy="120.0" r="2.6"/>
<circle cx="185.7" cy="141.4" r="2.6"/>
<circle cx="186.2" cy="135.4" r="2.6"/>
<circle cx="185.7" cy="122.8" r="2.6"/>
<circle cx="185.9" cy="112.3" r="2.6"/>
<circle cx="186.1" cy="112.6" r="2.6"/>
<circle cx="186.1" cy="132.6" r="2.6"/>
<circle cx="185.8" cy="120.5" r="2.6"/>
<circle cx="185.8" cy="126.7" r="2.6"/>
<circle cx="186.3" cy="132.4" r="2.6"/>
<circle cx="186.4" cy="102.4" r="2.6"/>
<circle cx="186.6" cy="109.3" r="2.6"/>
<circle cx="187.2" cy="125.3" r="2.6"/>
<circle cx="186.9" cy="126.6" r="2.6"/>
<circle cx="186.6" cy="123.5" r="2.6"/>
<circle cx="186.9" cy="111.1" r="2.6"/>
<circle cx="187.3" cy="112.5" r="2.6"/>
<circle cx="187.0" cy="101.9" r="2.6"/>
<circle cx="186.9" cy="126.7" r="2.6"/>
<circle cx="187.3" cy="124.4" r="2.6"/>
<circle cx="187.3" cy="126.9" r="2.6"/>
<circle cx="187.5" cy="120.9" r="2.6"/>
<circle cx="187.0" cy="116.5" r="2.6"/>
<circle cx="187.9" cy="113.0" r="2.6"/>
<circle cx="187.6" cy="111.2" r="2.6"/>
<circle cx="187.7" cy="114.5" r="2.6"/>
<circle cx="187.9" cy="111.1" r="2.6"/>
<circle cx="188.4" cy="112.8" r="2.6"/>
<circle cx="187.8" cy="120.9" r="2.6"/>
<circle cx="188.0" cy="126.2" r="2.6"/>
<circle cx="188.1" cy="126.7" r="2.6"/>
<circle cx="188.3" cy="133.2" r="2.6"/>
<circle cx="187.9" cy="125.5" r="2.6"/>
<circle cx="187.8" cy="101.5" r="2.6"/>
<circle cx="187.9" cy="126.3" r="2.6"/>
<circle cx="188.0" cy="111.7" r="2.6"/>
<circle cx="188.5" cy="101.2" r="2.6"/>
<circle cx="189.3" cy="124.1" r="2.6"/>
<circle cx="189.5" cy="126.3" r="2.6"/>
<circle cx="188.9" cy="128.1" r="2.6"/>
<circle cx="188.5" cy="119.5" r="2.6"/>
<circle cx="189.1" cy="126.2" r="2.6"/>
<circle cx="188.8" cy="133.1" r="2.6"/>
<circle cx="188.5" cy="103.8" r="2.6"/>
<circle cx="189.3" cy="111.3" r="2.6"/>
<circle cx="189.1" cy="105.6" r="2.6"/>
<circle cx="189.3" cy="124.1" r="2.6"/>
<circle cx="189.2" cy="114.8" r="2.6"/>
<circle cx="189.3" cy="105.6" r="2.6"/>
<circle cx="189.9" cy="119.3" r="2.6"/>
<circle cx="190.1" cy="117.5" r="2.6"/>
<circle cx="190.3" cy="120.7" r="2.6"/>
<circle cx="190.0" cy="140.3" r="2.6"/>
<circle cx="189.7" cy="101.8" r="2.6"/>
<circle cx="189.6" cy="120.5" r="2.6"/>
<circle cx="190.5" cy="123.8" r="2.6"/>
<circle cx="189.9" cy="99.3" r="2.6"/>
<circle cx="189.5" cy="126.0" r="2.6"/>
<circle cx="190.4" cy="128.0" r="2.6"/>
<circle cx="190.2" cy="108.9" r="2.6"/>
<circle cx="189.9" cy="121.6" r="2.6"/>
<circle cx="190.2" cy="114.9" r="2.6"/>
<circle cx="190.9" cy="121.9" r="2.6"/>
<circle cx="190.8" cy="125.2" r="2.6"/>
<circle cx="190.8" cy="100.8" r="2.6"/>
<circle cx="191.4" cy="112.5" r="2.6"/>
<circle cx="191.3" cy="132.5" r="2.6"/>
<circle cx="191.1" cy="123.9" r="2.6"/>
<circle cx="191.5" cy="119.8" r="2.6"/>
<circle cx="191.1" cy="113.2" r="2.6"/>
<circle cx="191.4" cy="110.9" r="2.6"/>
<circle cx="191.2" cy="104.8" r="2.6"/>
<circle cx="191.2" cy="100.8" r="2.6"/>
<circle cx="190.9" cy="120.1" r="2.6"/>
<circle cx="191.7" cy="112.2" r="2.6"/>
<circle cx="192.0" cy="120.1" r="2.6"/>
<circle cx="191.8" cy="130.7" r="2.6"/>
<circle cx="191.8" cy="117.8" r="2.6"/>
<circle cx="192.1" cy="108.9" r="2.6"/>
<circle cx="192.1" cy="117.2" r="2.6"/>
<circle cx="191.6" cy="113.1" r="2.6"/>
<circle cx="192.1" cy="130.8" r="2.6"/>
<circle cx="192.3" cy="113.9" r="2.6"/>
<circle cx="192.2" cy="135.7" r="2.6"/>
<circle cx="191.9" cy="129.5" r="2.6"/>
<circle cx="192.1" cy="134.5" r="2.6"/>
<circle cx="191.6" cy="129.6" r="2.6"/>
<circle cx="193.1" cy="97.5" r="2.6"/>
<circle cx="193.2" cy="108.5" r="2.6"/>
<circle cx="193.1" cy="131.4" r="2.6"/>
<circle cx="193.1" cy="131.3" r="2.6"/>
<circle cx="193.2" cy="121.1" r="2.6"/>
<circle cx="193.2" cy="126.5" r="2.6"/>
<circle cx="192.6" cy="111.3" r="2.6"/>
<circle cx="193.4" cy="125.5" r="2.6"/>
<circle cx="192.6" cy="131.3" r="2.6"/>
<circle cx="193.3" cy="120.5" r="2.6"/>
<circle cx="193.2" cy="132.8" r="2.6"/>
<circle cx="192.9" cy="104.4" r="2.6"/>
<circle cx="192.5" cy="111.4" r="2.6"/>
<circle cx="193.7" cy="113.2" r="2.6"/>
<circle cx="193.9" cy="111.6" r="2.6"/>
<circle cx="194.0" cy="130.5" r="2.6"/>
<circle cx="194.3" cy="132.8" r="2.6"/>
<circle cx="193.7" cy="126.3" r="2.6"/>
<circle cx="194.4" cy="116.9" r="2.6"/>
<circle cx="194.3" cy="123.0" r="2.6"/>
<circle cx="193.9" cy="117.6" r="2.6"/>
<circle cx="193.9" cy="127.9" r="2.6"/>
<circle cx="194.1" cy="134.4" r="2.6"/>
<circle cx="193.7" cy="109.3" r="2.6"/>
<circle cx="193.7" cy="113.1" r="2.6"/>
<circle cx="194.1" cy="114.7" r="2.6"/>
<circle cx="193.5" cy="110.3" r="2.6"/>
<circle cx="195.0" cy="97.1" r="2.6"/>
<circle cx="194.5" cy="113.8" r="2.6"/>
<circle cx="194.8" cy="122.2" r="2.6"/>
<circle cx="194.8" cy="115.6" r="2.6"/>
<circle cx="195.5" cy="110.6" r="2.6"/>
<circle cx="195.3" cy="118.0" r="2.6"/>
<circle cx="195.1" cy="118.1" r="2.6"/>
<circle cx="195.3" cy="107.2" r="2.6"/>
<circle cx="195.4" cy="99.7" r="2.6"/>
<circle cx="195.2" cy="109.2" r="2.6"/>
<circle cx="195.1" cy="133.8" r="2.6"/>
<circle cx="194.9" cy="117.6" r="2.6"/>
<circle cx="194.8" cy="109.3" r="2.6"/>
<circle cx="195.7" cy="109.6" r="2.6"/>
<circle cx="195.5" cy="101.2" r="2.6"/>
<circle cx="196.0" cy="121.5" r="2.6"/>
<circle cx="195.8" cy="117.9" r="2.6"/>
<circle cx="195.8" cy="98.6" r="2.6"/>
<circle cx="196.1" cy="124.0" r="2.6"/>
<circle cx="196.1" cy="101.5" r="2.6"/>
<circle cx="196.1" cy="102.9" r="2.6"/>
<circle cx="195.9" cy="136.8" r="2.6"/>
<circle cx="195.6" cy="94.8" r="2.6"/>
<circle cx="196.4" cy="125.2" r="2.6"/>
<circle cx="195.5" cy="105.9" r="2.6"/>
<circle cx="196.2" cy="106.3" r="2.6"/>
<circle cx="197.1" cy="103.4" r="2.6"/>
<circle cx="197.2" cy="110.5" r="2.6"/>
<circle cx="197.1" cy="108.9" r="2.6"/>
<circle cx="197.4" cy="126.8" r="2.6"/>
<circle cx="196.7" cy="101.0" r="2.6"/>
<circle cx="197.4" cy="126.4" r="2.6"/>
<circle cx="197.2" cy="108.3" r="2.6"/>
<circle cx="196.9" cy="103.6" r="2.6"/>
<circle cx="196.9" cy="112.9" r="2.6"/>
<circle cx="196.8" cy="119.8" r="2.6"/>
<circle cx="197.1" cy="118.2" r="2.6"/>
<circle cx="196.5" cy="113.5" r="2.6"/>
<circle cx="196.6" cy="101.8" r="2.6"/>
<circle cx="196.6" cy="113.3" r="2.6"/>
<circle cx="197.6" cy="124.8" r="2.6"/>
<circle cx="197.9" cy="104.7" r="2.6"/>
<circle cx="198.2" cy="102.4" r="2.6"/>
<circle cx="197.8" cy="107.0" r="2.6"/>
<circle cx="198.3" cy="113.7" r="2.6"/>
<circle cx="197.8" cy="132.3" r="2.6"/>
<circle cx="197.8" cy="126.8" r="2.6"/>
<circle cx="198.4" cy="112.8" r="2.6"/>
<circle cx="198.0" cy="95.8" r="2.6"/>
<circle cx="198.5" cy="116.2" r="2.6"/>
<circle cx="197.6" cy="124.4" r="2.6"/>
<circle cx="197.6" cy="100.6" r="2.6"/>
<circle cx="198.1" cy="104.0" r="2.6"/>
<circle cx="197.9" cy="131.4" r="2.6"/>
<circle cx="199.4" cy="123.3" r="2.6"/>
<circle cx="199.3" cy="96.3" r="2.6"/>
<circle cx="199.0" cy="132.7" r="2.6"/>
<circle cx="199.0" cy="103.0" r="2.6"/>
<circle cx="198.6" cy="129.6" r="2.6"/>
<circle cx="198.6" cy="131.0" r="2.6"/>
<circle cx="198.6" cy="95.9" r="2.6"/>
<circle cx="198.9" cy="127.2" r="2.6"/>
<circle cx="198.7" cy="129.1" r="2.6"/>
<circle cx="198.9" cy="105.2" r="2.6"/>
<circle cx="199.3" cy="102.9" r="2.6"/>
<circle cx="198.8" cy="108.9" r="2.6"/>
<circle cx="198.7" cy="117.3" r="2.6"/>
<circle cx="199.4" cy="128.5" r="2.6"/>
<circle cx="199.8" cy="117.9" r="2.6"/>
<circle cx="200.4" cy="105.7" r="2.6"/>
<circle cx="200.1" cy="120.9" r="2.6"/>
<circle cx="199.7" cy="93.5" r="2.6"/>
<circle cx="199.9" cy="102.8" r="2.6"/>
<circle cx="200.4" cy="118.5" r="2.6"/>
<circle cx="199.8" cy="108.5" r="2.6"/>
<circle cx="200.5" cy="99.1" r="2.6"/>
<circle cx="199.7" cy="129.6" r="2.6"/>
<circle cx="200.2" cy="119.5" r="2.6"/>
<circle cx="200.4" cy="107.8" r="2.6"/>
<circle cx="200.4" cy="117.8" r="2.6"/>
<circle cx="200.3" cy="121.9" r="2.6"/>
<circle cx="199.5" cy="115.6" r="2.6"/>
<circle cx="199.6" cy="115.3" r="2.6"/>
<circle cx="200.8" cy="125.3" r="2.6"/>
<circle cx="200.6" cy="122.9" r="2.6"/>
<circle cx="201.2" cy="101.4" r="2.6"/>
<circle cx="201.0" cy="122.6" r="2.6"/>
<circle cx="201.0" cy="108.0" r="2.6"/>
<circle cx="200.8" cy="122.4" r="2.6"/>
<circle cx="201.4" cy="131.3" r="2.6"/>
<circle cx="200.8" cy="112.6" r="2.6"/>
<circle cx="201.0" cy="96.2" r="2.6"/>
<circle cx="200.9" cy="115.7" r="2.6"/>
<circle cx="201.2" cy="120.7" r="2.6"/>
<circle cx="201.0" cy="120.5" r="2.6"/>
<circle cx="201.2" cy="136.2" r="2.6"/>
<circle cx="200.9" cy="106.7" r="2.6"/>
<circle cx="200.9" cy="111.0" r="2.6"/>
<circle cx="202.5" cy="99.6" r="2.6"/>
<circle cx="202.4" cy="117.2" r="2.6"/>
<circle cx="201.9" cy="117.3" r="2.6"/>
<circle cx="201.6" cy="101.7" r="2.6"/>
<circle cx="201.5" cy="118.2" r="2.6"/>
<circle cx="202.0" cy="105.9" r="2.6"/>
<circle cx="201.5" cy="130.9" r="2.6"/>
<circle cx="202.4" cy="127.4" r="2.6"/>
<circle cx="201.7" cy="93.4" r="2.6"/>
<circle cx="202.2" cy="112.6" r="2.6"/>
<circle cx="202.1" cy="114.1" r="2.6"/>
<circle cx="201.8" cy="102.3" r="2.6"/>
<circle cx="202.1" cy="105.5" r="2.6"/>
<circle cx="202.0" cy="128.5" r="2.6"/>
<circle cx="202.0" cy="111.0" r="2.6"/>
<circle cx="203.4" cy="98.9" r="2.6"/>
<circle cx="203.3" cy="99.0" r="2.6"/>
<circle cx="203.3" cy="100.0" r="2.6"/>
<circle cx="203.1" cy="110.1" r="2.6"/>
<circle cx="202.5" cy="129.3" r="2.6"/>
<circle cx="203.3" cy="124.4" r="2.6"/>
<circle cx="202.8" cy="99.3" r="2.6"/>
<circle cx="203.3" cy="106.8" r="2.6"/>
<circle cx="203.0" cy="98.6" r="2.6"/>
<circle cx="203.5" cy="108.3" r="2.6"/>
<circle cx="203.3" cy="100.3" r="2.6"/>
<circle cx="202.6" cy="116.0" r="2.6"/>
<circle cx="202.7" cy="103.3" r="2.6"/>
<circle cx="202.9" cy="106.2" r="2.6"/>
<circle cx="203.6" cy="113.7" r="2.6"/>
<circle cx="203.8" cy="119.0" r="2.6"/>
<circle cx="204.3" cy="101.8" r="2.6"/>
<circle cx="204.4" cy="116.0" r="2.6"/>
<circle cx="204.3" cy="108.4" r="2.6"/>
<circle cx="203.9" cy="120.7" r="2.6"/>
<circle cx="203.9" cy="109.1" r="2.6"/>
<circle cx="204.1" cy="108.1" r="2.6"/>
<circle cx="203.9" cy="121.6" r="2.6"/>
<circle cx="204.4" cy="114.0" r="2.6"/>
<circle cx="204.2" cy="128.2" r="2.6"/>
<circle cx="203.8" cy="117.1" r="2.6"/>
<circle cx="203.9" cy="120.4" r="2.6"/>
<circle cx="204.3" cy="111.6" r="2.6"/>
<circle cx="205.3" cy="98.9" r="2.6"/>
<circle cx="205.4" cy="109.2" r="2.6"/>
<circle cx="205.0" cy="109.8" r="2.6"/>
<circle cx="205.2" cy="112.8" r="2.6"/>
<circle cx="205.2" cy="107.7" r="2.6"/>
<circle cx="205.3" cy="111.9" r="2.6"/>
<circle cx="204.6" cy="115.6" r="2.6"/>
<circle cx="204.6" cy="115.1" r="2.6"/>
<circle cx="205.1" cy="119.1" r="2.6"/>
<circle cx="205.2" cy="116.5" r="2.6"/>
<circle cx="204.9" cy="125.1" r="2.6"/>
<circle cx="205.5" cy="115.5" r="2.6"/>
<circle cx="204.8" cy="114.2" r="2.6"/>
<circle cx="204.5" cy="106.0" r="2.6"/>
<circle cx="205.8" cy="101.0" r="2.6"/>
<circle cx="206.1" cy="121.6" r="2.6"/>
<circle cx="205.8" cy="106.3" r="2.6"/>
<circle cx="206.3" cy="110.8" r="2.6"/>
<circle cx="205.6" cy="108.9" r="2.6"/>
<circle cx="205.9" cy="116.0" r="2.6"/>
<circle cx="205.9" cy="95.8" r="2.6"/>
<circle cx="205.7" cy="110.1" r="2.6"/>
<circle cx="205.8" cy="106.1" r="2.6"/>
<circle cx="205.9" cy="108.0" r="2.6"/>
<circle cx="206.3" cy="105.6" r="2.6"/>
<circle cx="206.3" cy="116.4" r="2.6"/>
<circle cx="206.0" cy="116.4" r="2.6"/>
<circle cx="206.6" cy="120.9" r="2.6"/>
<circle cx="206.5" cy="112.9" r="2.6"/>
<circle cx="206.7" cy="120.2" r="2.6"/>
<circle cx="207.1" cy="114.0" r="2.6"/>
<circle cx="207.2" cy="93.4" r="2.6"/>
<circle cx="207.3" cy="98.5" r="2.6"/>
<circle cx="206.7" cy="122.3" r="2.6"/>
<circle cx="207.3" cy="94.6" r="2.6"/>
<circle cx="206.9" cy="108.4" r="2.6"/>
<circle cx="207.2" cy="107.2" r="2.6"/>
<circle cx="207.2" cy="93.3" r="2.6"/>
<circle cx="206.8" cy="119.5" r="2.6"/>
<circle cx="206.8" cy="111.0" r="2.6"/>
<circle cx="207.8" cy="120.8" r="2.6"/>
<circle cx="208.5" cy="117.2" r="2.6"/>
<circle cx="207.9" cy="91.9" r="2.6"/>
<circle cx="207.7" cy="121.4" r="2.6"/>
<circle cx="208.2" cy="116.2" r="2.6"/>
<circle cx="207.6" cy="113.1" r="2.6"/>
<circle cx="207.6" cy="113.2" r="2.6"/>
<circle cx="208.0" cy="106.7" r="2.6"/>
<circle cx="208.3" cy="102.2" r="2.6"/>
<circle cx="208.0" cy="111.1" r="2.6"/>
<circle cx="208.1" cy="105.4" r="2.6"/>
<circle cx="207.8" cy="111.7" r="2.6"/>
<circle cx="208.3" cy="110.0" r="2.6"/>
<circle cx="209.5" cy="118.7" r="2.6"/>
<circle cx="209.2" cy="120.5" r="2.6"/>
<circle cx="208.9" cy="100.9" r="2.6"/>
<circle cx="208.7" cy="114.0" r="2.6"/>
<circle cx="208.8" cy="108.8" r="2.6"/>
<circle cx="208.6" cy="108.1" r="2.6"/>
<circle cx="209.0" cy="109.2" r="2.6"/>
<circle cx="208.6" cy="106.7" r="2.6"/>
<circle cx="208.6" cy="93.9" r="2.6"/>
<circle cx="209.2" cy="100.7" r="2.6"/>
<circle cx="209.4" cy="95.6" r="2.6"/>
<circle cx="209.4" cy="117.2" r="2.6"/>
<circle cx="208.6" cy="113.5" r="2.6"/>
<circle cx="210.0" cy="113.2" r="2.6"/>
<circle cx="209.7" cy="104.3" r="2.6"/>
<circle cx="210.0" cy="112.5" r="2.6"/>
<circle cx="209.9" cy="95.8" r="2.6"/>
<circle cx="209.7" cy="93.6" r="2.6"/>
<circle cx="209.5" cy="105.0" r="2.6"/>
<circle cx="210.1" cy="89.0" r="2.6"/>
<circle cx="209.7" cy="106.4" r="2.6"/>
<circle cx="209.5" cy="109.4" r="2.6"/>
<circle cx="209.8" cy="105.8" r="2.6"/>
<circle cx="209.6" cy="111.2" r="2.6"/>
<circle cx="210.3" cy="106.5" r="2.6"/>
<circle cx="209.6" cy="117.6" r="2.6"/>
<circle cx="211.1" cy="107.1" r="2.6"/>
<circle cx="211.3" cy="104.2" r="2.6"/>
<circle cx="211.0" cy="114.1" r="2.6"/>
<circle cx="210.9" cy="105.9" r="2.6"/>
<circle cx="210.7" cy="91.7" r="2.6"/>
<circle cx="210.8" cy="102.2" r="2.6"/>
<circle cx="210.7" cy="95.1" r="2.6"/>
<circle cx="211.5" cy="119.2" r="2.6"/>
<circle cx="211.0" cy="99.7" r="2.6"/>
<circle cx="211.3" cy="108.1" r="2.6"/>
<circle cx="211.3" cy="108.5" r="2.6"/>
<circle cx="210.6" cy="116.6" r="2.6"/>
<circle cx="212.5" cy="93.2" r="2.6"/>
<circle cx="212.3" cy="103.5" r="2.6"/>
<circle cx="212.4" cy="98.8" r="2.6"/>
<circle cx="212.1" cy="111.8" r="2.6"/>
<circle cx="212.3" cy="113.8" r="2.6"/>
<circle cx="211.8" cy="89.4" r="2.6"/>
<circle cx="211.6" cy="99.3" r="2.6"/>
<circle cx="212.3" cy="105.3" r="2.6"/>
<circle cx="212.0" cy="94.3" r="2.6"/>
<circle cx="212.4" cy="103.5" r="2.6"/>
<circle cx="212.2" cy="96.9" r="2.6"/>
<circle cx="212.3" cy="112.5" r="2.6"/>
<circle cx="212.6" cy="107.2" r="2.6"/>
<circle cx="213.3" cy="94.7" r="2.6"/>
<circle cx="213.3" cy="105.9" r="2.6"/>
<circle cx="212.5" cy="113.5" r="2.6"/>
<circle cx="212.9" cy="112.6" r="2.6"/>
<circle cx="213.0" cy="103.2" r="2.6"/>
<circle cx="212.9" cy="94.1" r="2.6"/>
<circle cx="212.6" cy="97.4" r="2.6"/>
<circle cx="212.9" cy="109.2" r="2.6"/>
<circle cx="213.3" cy="97.8" r="2.6"/>
<circle cx="212.5" cy="108.6" r="2.6"/>
<circle cx="213.5" cy="105.8" r="2.6"/>
<circle cx="214.1" cy="114.2" r="2.6"/>
<circle cx="213.9" cy="108.8" r="2.6"/>
<circle cx="214.5" cy="112.6" r="2.6"/>
<circle cx="213.7" cy="112.4" r="2.6"/>
<circle cx="213.5" cy="99.2" r="2.6"/>
<circle cx="214.0" cy="115.9" r="2.6"/>
<circle cx="213.6" cy="102.1" r="2.6"/>
<circle cx="214.4" cy="110.7" r="2.6"/>
<circle cx="214.4" cy="87.3" r="2.6"/>
<circle cx="213.6" cy="116.8" r="2.6"/>
<circle cx="213.9" cy="110.1" r="2.6"/>
<circle cx="214.0" cy="96.2" r="2.6"/>
<circle cx="215.0" cy="94.9" r="2.6"/>
<circle cx="214.6" cy="116.1" r="2.6"/>
<circle cx="214.9" cy="96.7" r="2.6"/>
<circle cx="215.4" cy="90.8" r="2.6"/>
<circle cx="214.8" cy="101.4" r="2.6"/>
<circle cx="215.4" cy="115.4" r="2.6"/>
<circle cx="215.1" cy="104.1" r="2.6"/>
<circle cx="215.2" cy="98.1" r="2.6"/>
<circle cx="214.8" cy="99.0" r="2.6"/>
<circle cx="214.9" cy="98.5" r="2.6"/>
<circle cx="215.1" cy="112.4" r="2.6"/>
<circle cx="215.5" cy="97.5" r="2.6"/>
<circle cx="215.8" cy="92.7" r="2.6"/>
<circle cx="216.3" cy="103.0" r="2.6"/>
<circle cx="216.0" cy="97.8" r="2.6"/>
<circle cx="215.7" cy="104.8" r="2.6"/>
<circle cx="215.6" cy="104.4" r="2.6"/>
<circle cx="216.5" cy="97.1" r="2.6"/>
<circle cx="215.7" cy="107.6" r="2.6"/>
<circle cx="215.7" cy="114.4" r="2.6"/>
<circle cx="215.6" cy="98.8" r="2.6"/>
<circle cx="215.9" cy="97.4" r="2.6"/>
<circle cx="216.4" cy="100.0" r="2.6"/>
<circle cx="216.3" cy="106.8" r="2.6"/>
<circle cx="217.3" cy="97.9" r="2.6"/>
<circle cx="217.1" cy="104.7" r="2.6"/>
<circle cx="216.9" cy="100.0" r="2.6"/>
<circle cx="217.0" cy="92.6" r="2.6"/>
<circle cx="216.8" cy="103.9" r="2.6"/>
<circle cx="217.1" cy="116.3" r="2.6"/>
<circle cx="216.8" cy="113.5" r="2.6"/>
<circle cx="217.0" cy="86.7" r="2.6"/>
<circle cx="217.2" cy="104.3" r="2.6"/>
<circle cx="216.6" cy="109.4" r="2.6"/>
<circle cx="217.5" cy="104.4" r="2.6"/>
<circle cx="216.9" cy="94.3" r="2.6"/>
<circle cx="217.8" cy="84.6" r="2.6"/>
<circle cx="217.8" cy="108.6" r="2.6"/>
<circle cx="218.0" cy="110.6" r="2.6"/>
<circle cx="217.6" cy="89.7" r="2.6"/>
<circle cx="217.9" cy="85.8" r="2.6"/>
<circle cx="218.4" cy="82.1" r="2.6"/>
<circle cx="218.1" cy="91.0" r="2.6"/>
<circle cx="218.3" cy="109.8" r="2.6"/>
<circle cx="217.7" cy="94.8" r="2.6"/>
<circle cx="218.4" cy="99.4" r="2.6"/>
<circle cx="218.2" cy="88.5" r="2.6"/>
<circle cx="217.6" cy="88.1" r="2.6"/>
<circle cx="219.1" cy="83.5" r="2.6"/>
<circle cx="219.1" cy="85.1" r="2.6"/>
<circle cx="218.7" cy="97.5" r="2.6"/>
<circle cx="219.5" cy="103.8" r="2.6"/>
<circle cx="218.9" cy="104.6" r="2.6"/>
<circle cx="218.8" cy="113.9" r="2.6"/>
<circle cx="218.6" cy="102.4" r="2.6"/>
<circle cx="218.9" cy="84.9" r="2.6"/>
<circle cx="219.3" cy="106.0" r="2.6"/>
<circle cx="218.6" cy="108.5" r="2.6"/>
<circle cx="218.8" cy="102.4" r="2.6"/>
<circle cx="218.7" cy="100.5" r="2.6"/>
<circle cx="220.3" cy="108.1" r="2.6"/>
<circle cx="219.5" cy="113.1" r="2.6"/>
<circle cx="219.9" cy="100.7" r="2.6"/>
<circle cx="220.2" cy="101.7" r="2.6"/>
<circle cx="220.1" cy="88.9" r="2.6"/>
<circle cx="220.5" cy="109.0" r="2.6"/>
<circle cx="220.5" cy="104.0" r="2.6"/>
<circle cx="219.6" cy="112.6" r="2.6"/>
<circle cx="220.2" cy="104.3" r="2.6"/>
<circle cx="220.0" cy="105.1" r="2.6"/>
<circle cx="219.9" cy="88.1" r="2.6"/>
<circle cx="220.2" cy="88.3" r="2.6"/>
<circle cx="221.2" cy="87.8" r="2.6"/>
<circle cx="221.1" cy="89.9" r="2.6"/>
<circle cx="221.4" cy="111.9" r="2.6"/>
<circle cx="221.2" cy="94.6" r="2.6"/>
<circle cx="220.5" cy="102.8" r="2.6"/>
<circle cx="221.2" cy="99.5" r="2.6"/>
<circle cx="220.7" cy="96.4" r="2.6"/>
<circle cx="221.5" cy="105.6" r="2.6"/>
<circle cx="220.7" cy="83.0" r="2.6"/>
<circle cx="221.3" cy="109.4" r="2.6"/>
<circle cx="220.7" cy="100.5" r="2.6"/>
<circle cx="221.0" cy="99.7" r="2.6"/>
<circle cx="222.3" cy="99.5" r="2.6"/>
<circle cx="222.1" cy="84.5" r="2.6"/>
<circle cx="221.7" cy="86.7" r="2.6"/>
<circle cx="222.4" cy="81.8" r="2.6"/>
<circle cx="221.9" cy="88.0" r="2.6"/>
<circle cx="222.3" cy="84.2" r="2.6"/>
<circle cx="221.7" cy="81.5" r="2.6"/>
<circle cx="221.9" cy="107.7" r="2.6"/>
<circle cx="222.3" cy="106.9" r="2.6"/>
<circle cx="222.0" cy="115.1" r="2.6"/>
<circle cx="222.1" cy="91.2" r="2.6"/>
<circle cx="222.0" cy="101.8" r="2.6"/>
<circle cx="223.4" cy="88.2" r="2.6"/>
<circle cx="223.1" cy="83.8" r="2.6"/>
<circle cx="223.0" cy="86.8" r="2.6"/>
<circle cx="222.9" cy="86.8" r="2.6"/>
<circle cx="222.6" cy="103.2" r="2.6"/>
<circle cx="222.9" cy="85.3" r="2.6"/>
<circle cx="223.1" cy="94.7" r="2.6"/>
<circle cx="223.0" cy="89.6" r="2.6"/>
<circle cx="223.1" cy="108.9" r="2.6"/>
<circle cx="223.5" cy="88.0" r="2.6"/>
<circle cx="223.3" cy="92.8" r="2.6"/>
<circle cx="222.5" cy="86.1" r="2.6"/>
<circle cx="224.3" cy="84.4" r="2.6"/>
<circle cx="223.7" cy="81.6" r="2.6"/>
<circle cx="224.4" cy="98.4" r="2.6"/>
<circle cx="224.4" cy="109.3" r="2.6"/>
<circle cx="223.5" cy="84.9" r="2.6"/>
<circle cx="224.2" cy="110.8" r="2.6"/>
<circle cx="223.7" cy="105.4" r="2.6"/>
<circle cx="224.4" cy="108.5" r="2.6"/>
<circle cx="223.5" cy="105.7" r="2.6"/>
<circle cx="224.0" cy="79.7" r="2.6"/>
<circle cx="224.1" cy="89.8" r="2.6"/>
<circle cx="224.0" cy="98.5" r="2.6"/>
<circle cx="223.5" cy="92.5" r="2.6"/>
<circle cx="225.3" cy="105.7" r="2.6"/>
<circle cx="224.6" cy="96.7" r="2.6"/>
<circle cx="224.6" cy="97.9" r="2.6"/>
<circle cx="225.0" cy="104.8" r="2.6"/>
<circle cx="225.2" cy="82.5" r="2.6"/>
<circle cx="224.9" cy="97.8" r="2.6"/>
<circle cx="224.6" cy="103.6" r="2.6"/>
<circle cx="225.5" cy="91.8" r="2.6"/>
<circle cx="224.6" cy="98.9" r="2.6"/>
<circle cx="225.1" cy="95.4" r="2.6"/>
<circle cx="225.1" cy="86.2" r="2.6"/>
<circle cx="225.4" cy="97.9" r="2.6"/>
<circle cx="226.2" cy="110.0" r="2.6"/>
<circle cx="226.3" cy="100.6" r="2.6"/>
<circle cx="225.7" cy="106.8" r="2.6"/>
<circle cx="225.9" cy="85.6" r="2.6"/>
<circle cx="225.8" cy="94.7" r="2.6"/>
<circle cx="225.9" cy="82.0" r="2.6"/>
<circle cx="226.2" cy="102.7" r="2.6"/>
<circle cx="226.5" cy="96.2" r="2.6"/>
<circle cx="225.8" cy="77.1" r="2.6"/>
<circle cx="225.5" cy="92.1" r="2.6"/>
<circle cx="226.4" cy="107.1" r="2.6"/>
<circle cx="226.3" cy="103.4" r="2.6"/>
<circle cx="227.3" cy="90.0" r="2.6"/>
<circle cx="226.9" cy="98.4" r="2.6"/>
<circle cx="227.5" cy="93.5" r="2.6"/>
<circle cx="227.1" cy="95.4" r="2.6"/>
<circle cx="227.4" cy="103.3" r="2.6"/>
<circle cx="227.5" cy="90.7" r="2.6"/>
<circle cx="226.8" cy="85.2" r="2.6"/>
<circle cx="227.2" cy="101.6" r="2.6"/>
<circle cx="226.7" cy="95.0" r="2.6"/>
<circle cx="227.2" cy="100.3" r="2.6"/>
<circle cx="226.8" cy="94.5" r="2.6"/>
<circle cx="226.7" cy="100.5" r="2.6"/>
<circle cx="228.1" cy="86.8" r="2.6"/>
<circle cx="228.2" cy="86.8" r="2.6"/>
<circle cx="227.6" cy="79.9" r="2.6"/>
<circle cx="227.6" cy="89.5" r="2.6"/>
<circle cx="228.5" cy="93.7" r="2.6"/>
<circle cx="227.8" cy="83.3" r="2.6"/>
<circle cx="227.8" cy="95.8" r="2.6"/>
<circle cx="227.9" cy="100.0" r="2.6"/>
<circle cx="227.6" cy="97.8" r="2.6"/>
<circle cx="227.5" cy="84.1" r="2.6"/>
<circle cx="227.7" cy="108.9" r="2.6"/>
<circle cx="227.8" cy="98.5" r="2.6"/>
<circle cx="228.4" cy="84.0" r="2.6"/>
<circle cx="229.1" cy="80.1" r="2.6"/>
<circle cx="228.6" cy="95.7" r="2.6"/>
<circle cx="228.9" cy="98.3" r="2.6"/>
<circle cx="228.6" cy="87.4" r="2.6"/>
<circle cx="228.6" cy="104.9" r="2.6"/>
<circle cx="228.9" cy="90.6" r="2.6"/>
<circle cx="228.8" cy="104.3" r="2.6"/>
<circle cx="228.6" cy="94.2" r="2.6"/>
<circle cx="228.8" cy="103.0" r="2.6"/>
<circle cx="228.7" cy="102.0" r="2.6"/>
<circle cx="228.9" cy="84.4" r="2.6"/>
<circle cx="229.0" cy="98.0" r="2.6"/>
<circle cx="228.6" cy="106.3" r="2.6"/>
<circle cx="229.9" cy="93.2" r="2.6"/>
<circle cx="230.2" cy="91.7" r="2.6"/>
<circle cx="230.0" cy="80.6" r="2.6"/>
<circle cx="229.9" cy="84.3" r="2.6"/>
<circle cx="229.9" cy="79.0" r="2.6"/>
<circle cx="230.4" cy="95.3" r="2.6"/>
<circle cx="230.2" cy="99.1" r="2.6"/>
<circle cx="230.4" cy="96.0" r="2.6"/>
<circle cx="230.4" cy="95.9" r="2.6"/>
<circle cx="229.7" cy="89.4" r="2.6"/>
<circle cx="229.7" cy="104.9" r="2.6"/>
<circle cx="230.4" cy="85.4" r="2.6"/>
<circle cx="230.0" cy="92.6" r="2.6"/>
<circle cx="230.9" cy="97.7" r="2.6"/>
<circle cx="231.0" cy="108.1" r="2.6"/>
<circle cx="231.2" cy="76.5" r="2.6"/>
<circle cx="230.5" cy="88.6" r="2.6"/>
<circle cx="230.7" cy="91.7" r="2.6"/>
<circle cx="231.1" cy="80.6" r="2.6"/>
<circle cx="231.4" cy="102.9" r="2.6"/>
<circle cx="231.4" cy="106.0" r="2.6"/>
<circle cx="230.7" cy="105.4" r="2.6"/>
<circle cx="231.4" cy="95.6" r="2.6"/>
<circle cx="230.5" cy="83.2" r="2.6"/>
<circle cx="230.7" cy="80.7" r="2.6"/>
<circle cx="230.9" cy="72.8" r="2.6"/>
<circle cx="231.7" cy="105.8" r="2.6"/>
<circle cx="232.0" cy="80.3" r="2.6"/>
<circle cx="232.1" cy="92.9" r="2.6"/>
<circle cx="231.7" cy="102.1" r="2.6"/>
<circle cx="232.5" cy="84.9" r="2.6"/>
<circle cx="231.8" cy="88.5" r="2.6"/>
<circle cx="231.5" cy="93.3" r="2.6"/>
<circle cx="232.3" cy="80.6" r="2.6"/>
<circle cx="231.8" cy="94.9" r="2.6"/>
<circle cx="231.6" cy="77.7" r="2.6"/>
<circle cx="232.5" cy="79.3" r="2.6"/>
<circle cx="232.0" cy="79.8" r="2.6"/>
<circle cx="232.6" cy="84.9" r="2.6"/>
<circle cx="233.1" cy="80.0" r="2.6"/>
<circle cx="233.2" cy="74.1" r="2.6"/>
<circle cx="233.5" cy="101.0" r="2.6"/>
<circle cx="232.9" cy="104.5" r="2.6"/>
<circle cx="232.6" cy="103.6" r="2.6"/>
<circle cx="232.8" cy="83.8" r="2.6"/>
<circle cx="233.0" cy="97.2" r="2.6"/>
<circle cx="233.3" cy="83.4" r="2.6"/>
<circle cx="232.7" cy="85.9" r="2.6"/>
<circle cx="233.1" cy="90.1" r="2.6"/>
<circle cx="232.7" cy="109.6" r="2.6"/>
<circle cx="234.1" cy="75.6" r="2.6"/>
<circle cx="233.8" cy="95.5" r="2.6"/>
<circle cx="234.0" cy="85.4" r="2.6"/>
<circle cx="234.1" cy="103.1" r="2.6"/>
<circle cx="234.2" cy="96.3" r="2.6"/>
<circle cx="234.2" cy="99.9" r="2.6"/>
<circle cx="234.1" cy="90.2" r="2.6"/>
<circle cx="234.3" cy="103.8" r="2.6"/>
<circle cx="234.5" cy="87.4" r="2.6"/>
<circle cx="234.5" cy="86.7" r="2.6"/>
<circle cx="233.9" cy="91.2" r="2.6"/>
<circle cx="234.3" cy="104.4" r="2.6"/>
<circle cx="233.7" cy="80.9" r="2.6"/>
<circle cx="234.9" cy="77.4" r="2.6"/>
<circle cx="235.1" cy="75.6" r="2.6"/>
<circle cx="235.2" cy="81.1" r="2.6"/>
<circle cx="235.0" cy="78.6" r="2.6"/>
<circle cx="234.7" cy="94.0" r="2.6"/>
<circle cx="235.3" cy="102.8" r="2.6"/>
<circle cx="235.1" cy="84.7" r="2.6"/>
<circle cx="234.7" cy="82.0" r="2.6"/>
<circle cx="235.3" cy="86.4" r="2.6"/>
<circle cx="235.3" cy="95.2" r="2.6"/>
<circle cx="234.5" cy="83.5" r="2.6"/>
<circle cx="235.2" cy="85.4" r="2.6"/>
<circle cx="235.7" cy="72.6" r="2.6"/>
<circle cx="235.8" cy="94.1" r="2.6"/>
<circle cx="236.5" cy="87.8" r="2.6"/>
<circle cx="236.4" cy="76.0" r="2.6"/>
<circle cx="236.0" cy="92.5" r="2.6"/>
<circle cx="236.0" cy="85.2" r="2.6"/>
<circle cx="235.6" cy="74.2" r="2.6"/>
<circle cx="236.1" cy="75.3" r="2.6"/>
<circle cx="235.8" cy="94.2" r="2.6"/>
<circle cx="236.0" cy="86.6" r="2.6"/>
<circle cx="236.1" cy="100.7" r="2.6"/>
<circle cx="236.2" cy="77.2" r="2.6"/>
<circle cx="236.7" cy="78.8" r="2.6"/>
<circle cx="237.1" cy="88.0" r="2.6"/>
<circle cx="237.3" cy="92.9" r="2.6"/>
<circle cx="236.7" cy="83.0" r="2.6"/>
<circle cx="237.1" cy="91.6" r="2.6"/>
<circle cx="237.1" cy="77.5" r="2.6"/>
<circle cx="236.7" cy="90.7" r="2.6"/>
<circle cx="237.0" cy="84.4" r="2.6"/>
<circle cx="236.7" cy="100.6" r="2.6"/>
<circle cx="237.2" cy="90.9" r="2.6"/>
<circle cx="237.4" cy="89.5" r="2.6"/>
<circle cx="237.2" cy="81.1" r="2.6"/>
<circle cx="238.3" cy="77.7" r="2.6"/>
<circle cx="238.3" cy="81.2" r="2.6"/>
<circle cx="238.2" cy="80.3" r="2.6"/>
<circle cx="237.6" cy="89.0" r="2.6"/>
<circle cx="237.7" cy="86.2" r="2.6"/>
<circle cx="237.7" cy="92.7" r="2.6"/>
<circle cx="238.0" cy="86.0" r="2.6"/>
<circle cx="238.0" cy="92.2" r="2.6"/>
<circle cx="237.6" cy="79.1" r="2.6"/>
<circle cx="238.0" cy="82.5" r="2.6"/>
<circle cx="237.7" cy="90.8" r="2.6"/>
<circle cx="238.2" cy="85.1" r="2.6"/>
<circle cx="239.4" cy="83.3" r="2.6"/>
<circle cx="239.0" cy="81.9" r="2.6"/>
<circle cx="238.8" cy="82.1" r="2.6"/>
<circle cx="239.4" cy="98.8" r="2.6"/>
<circle cx="239.1" cy="83.9" r="2.6"/>
<circle cx="239.3" cy="72.3" r="2.6"/>
<circle cx="238.9" cy="81.5" r="2.6"/>
<circle cx="238.6" cy="98.3" r="2.6"/>
<circle cx="238.6" cy="92.6" r="2.6"/>
<circle cx="238.7" cy="72.4" r="2.6"/>
<circle cx="239.3" cy="86.2" r="2.6"/>
<circle cx="239.9" cy="91.5" r="2.6"/>
<circle cx="239.7" cy="73.1" r="2.6"/>
<circle cx="240.2" cy="88.8" r="2.6"/>
<circle cx="240.4" cy="88.3" r="2.6"/>
<circle cx="239.8" cy="95.0" r="2.6"/>
<circle cx="240.2" cy="80.8" r="2.6"/>
<circle cx="240.5" cy="87.7" r="2.6"/>
<circle cx="239.8" cy="92.9" r="2.6"/>
<circle cx="240.0" cy="76.9" r="2.6"/>
<circle cx="239.6" cy="87.9" r="2.6"/>
<circle cx="240.2" cy="81.7" r="2.6"/>
<circle cx="239.9" cy="75.0" r="2.6"/>
<circle cx="241.1" cy="87.6" r="2.6"/>
<circle cx="241.1" cy="90.4" r="2.6"/>
<circle cx="241.3" cy="90.0" r="2.6"/>
<circle cx="240.8" cy="80.8" r="2.6"/>
<circle cx="240.9" cy="79.5" r="2.6"/>
<circle cx="240.7" cy="72.0" r="2.6"/>
<circle cx="241.4" cy="73.0" r="2.6"/>
<circle cx="240.7" cy="89.2" r="2.6"/>
<circle cx="241.2" cy="91.4" r="2.6"/>
<circle cx="241.2" cy="85.4" r="2.6"/>
<circle cx="240.6" cy="92.5" r="2.6"/>
<circle cx="241.8" cy="90.8" r="2.6"/>
<circle cx="242.3" cy="76.4" r="2.6"/>
<circle cx="242.2" cy="94.2" r="2.6"/>
<circle cx="242.2" cy="96.5" r="2.6"/>
<circle cx="242.0" cy="92.1" r="2.6"/>
<circle cx="242.3" cy="74.6" r="2.6"/>
<circle cx="241.7" cy="93.9" r="2.6"/>
<circle cx="241.6" cy="75.3" r="2.6"/>
<circle cx="242.3" cy="69.2" r="2.6"/>
<circle cx="241.6" cy="70.4" r="2.6"/>
<circle cx="242.9" cy="80.2" r="2.6"/>
<circle cx="243.1" cy="87.5" r="2.6"/>
<circle cx="243.0" cy="79.3" r="2.6"/>
<circle cx="243.4" cy="80.5" r="2.6"/>
<circle cx="242.6" cy="74.5" r="2.6"/>
<circle cx="243.0" cy="85.6" r="2.6"/>
<circle cx="243.2" cy="91.2" r="2.6"/>
<circle cx="242.9" cy="77.5" r="2.6"/>
<circle cx="243.2" cy="72.9" r="2.6"/>
<circle cx="243.9" cy="90.0" r="2.6"/>
<circle cx="243.9" cy="82.4" r="2.6"/>
<circle cx="244.3" cy="80.9" r="2.6"/>
<circle cx="244.2" cy="77.0" r="2.6"/>
<circle cx="243.7" cy="84.4" r="2.6"/>
<circle cx="243.9" cy="88.2" r="2.6"/>
<circle cx="244.4" cy="79.9" r="2.6"/>
<circle cx="243.8" cy="75.2" r="2.6"/>
<circle cx="244.0" cy="83.9" r="2.6"/>
<circle cx="245.5" cy="90.5" r="2.6"/>
<circle cx="245.3" cy="87.7" r="2.6"/>
<circle cx="245.1" cy="89.4" r="2.6"/>
<circle cx="245.4" cy="84.0" r="2.6"/>
<circle cx="245.0" cy="67.7" r="2.6"/>
<circle cx="245.4" cy="74.3" r="2.6"/>
<circle cx="245.1" cy="78.2" r="2.6"/>
<circle cx="245.3" cy="82.6" r="2.6"/>
<circle cx="245.9" cy="78.1" r="2.6"/>
<circle cx="246.0" cy="84.0" r="2.6"/>
<circle cx="245.8" cy="66.8" r="2.6"/>
<circle cx="245.8" cy="78.4" r="2.6"/>
<circle cx="245.7" cy="73.3" r="2.6"/>
<circle cx="246.1" cy="82.3" r="2.6"/>
<circle cx="246.2" cy="75.8" r="2.6"/>
<circle cx="246.3" cy="77.1" r="2.6"/>
<circle cx="246.9" cy="87.6" r="2.6"/>
<circle cx="247.3" cy="67.7" r="2.6"/>
<circle cx="246.6" cy="72.4" r="2.6"/>
<circle cx="246.7" cy="71.7" r="2.6"/>
<circle cx="246.9" cy="69.8" r="2.6"/>
<circle cx="246.8" cy="87.3" r="2.6"/>
<circle cx="247.7" cy="67.6" r="2.6"/>
<circle cx="247.7" cy="76.7" r="2.6"/>
<circle cx="248.0" cy="83.0" r="2.6"/>
<circle cx="248.1" cy="72.4" r="2.6"/>
<circle cx="247.6" cy="69.4" r="2.6"/>
<circle cx="248.5" cy="77.4" r="2.6"/>
<circle cx="247.9" cy="73.4" r="2.6"/>
<circle cx="249.4" cy="73.0" r="2.6"/>
<circle cx="248.5" cy="78.0" r="2.6"/>
<circle cx="249.1" cy="75.0" r="2.6"/>
<circle cx="248.9" cy="70.0" r="2.6"/>
<circle cx="249.1" cy="71.5" r="2.6"/>
<circle cx="248.6" cy="74.3" r="2.6"/>
<circle cx="250.2" cy="77.2" r="2.6"/>
<circle cx="250.0" cy="84.6" r="2.6"/>
<circle cx="249.6" cy="68.2" r="2.6"/>
<circle cx="250.3" cy="66.9" r="2.6"/>
<circle cx="250.0" cy="71.2" r="2.6"/>
<circle cx="249.8" cy="66.2" r="2.6"/>
<circle cx="251.1" cy="84.7" r="2.6"/>
<circle cx="251.1" cy="71.2" r="2.6"/>
<circle cx="250.8" cy="79.9" r="2.6"/>
<circle cx="250.9" cy="71.9" r="2.6"/>
<circle cx="250.8" cy="69.3" r="2.6"/>
<circle cx="250.7" cy="73.1" r="2.6"/>
<circle cx="251.6" cy="66.8" r="2.6"/>
<circle cx="251.6" cy="76.5" r="2.6"/>
<circle cx="252.2" cy="78.8" r="2.6"/>
<circle cx="252.4" cy="77.4" r="2.6"/>
<circle cx="252.4" cy="76.1" r="2.6"/>
<circle cx="252.2" cy="66.8" r="2.6"/>
<circle cx="253.4" cy="63.7" r="2.6"/>
<circle cx="253.1" cy="71.6" r="2.6"/>
<circle cx="252.6" cy="75.1" r="2.6"/>
<circle cx="253.1" cy="77.6" r="2.6"/>
<circle cx="252.7" cy="65.3" r="2.6"/>
<circle cx="253.2" cy="73.5" r="2.6"/>
<circle cx="253.9" cy="83.2" r="2.6"/>
<circle cx="253.7" cy="66.6" r="2.6"/>
<circle cx="253.7" cy="82.8" r="2.6"/>
<circle cx="253.9" cy="64.3" r="2.6"/>
<circle cx="253.6" cy="71.9" r="2.6"/>
<circle cx="253.9" cy="71.5" r="2.6"/>
<circle cx="255.0" cy="69.9" r="2.6"/>
<circle cx="254.9" cy="66.5" r="2.6"/>
<circle cx="255.4" cy="67.9" r="2.6"/>
<circle cx="254.7" cy="68.0" r="2.6"/>
<circle cx="254.5" cy="76.0" r="2.6"/>
<circle cx="255.3" cy="70.1" r="2.6"/>
<circle cx="255.9" cy="77.7" r="2.6"/>
<circle cx="255.9" cy="60.9" r="2.6"/>
<circle cx="256.5" cy="66.2" r="2.6"/>
<circle cx="255.9" cy="66.4" r="2.6"/>
<circle cx="256.3" cy="80.1" r="2.6"/>
<circle cx="256.3" cy="66.9" r="2.6"/>
<circle cx="256.8" cy="65.4" r="2.6"/>
<circle cx="256.7" cy="80.3" r="2.6"/>
<circle cx="257.4" cy="64.7" r="2.6"/>
<circle cx="257.3" cy="79.9" r="2.6"/>
<circle cx="257.1" cy="76.0" r="2.6"/>
<circle cx="257.1" cy="70.5" r="2.6"/>
<circle cx="257.6" cy="79.2" r="2.6"/>
<circle cx="258.4" cy="60.7" r="2.6"/>
<circle cx="257.8" cy="74.5" r="2.6"/>
<circle cx="258.1" cy="75.4" r="2.6"/>
<circle cx="258.2" cy="69.2" r="2.6"/>
<circle cx="257.8" cy="72.9" r="2.6"/>
<circle cx="258.9" cy="60.6" r="2.6"/>
<circle cx="259.0" cy="72.6" r="2.6"/>
<circle cx="258.9" cy="58.3" r="2.6"/>
<circle cx="259.2" cy="65.4" r="2.6"/>
<circle cx="258.6" cy="72.7" r="2.6"/>
<circle cx="259.0" cy="69.2" r="2.6"/>
<circle cx="259.9" cy="71.0" r="2.6"/>
<circle cx="259.5" cy="74.9" r="2.6"/>
<circle cx="260.4" cy="78.8" r="2.6"/>
<circle cx="260.0" cy="67.1" r="2.6"/>
<circle cx="260.2" cy="74.5" r="2.6"/>
<circle cx="259.7" cy="77.5" r="2.6"/>
<circle cx="261.0" cy="69.5" r="2.6"/>
<circle cx="261.4" cy="58.8" r="2.6"/>
<circle cx="261.3" cy="69.3" r="2.6"/>
<circle cx="260.7" cy="75.7" r="2.6"/>
<circle cx="261.3" cy="53.0" r="2.6"/>
<circle cx="261.0" cy="54.9" r="2.6"/>
<circle cx="262.4" cy="55.6" r="2.6"/>
<circle cx="261.7" cy="60.2" r="2.6"/>
<circle cx="262.3" cy="54.7" r="2.6"/>
<circle cx="262.2" cy="68.4" r="2.6"/>
<circle cx="261.9" cy="63.0" r="2.6"/>
<circle cx="263.0" cy="62.6" r="2.6"/>
<circle cx="263.1" cy="60.2" r="2.6"/>
<circle cx="263.4" cy="59.9" r="2.6"/>
<circle cx="263.5" cy="74.1" r="2.6"/>
<circle cx="263.5" cy="65.3" r="2.6"/>
<circle cx="263.8" cy="59.9" r="2.6"/>
<circle cx="263.6" cy="55.2" r="2.6"/>
<circle cx="264.1" cy="65.1" r="2.6"/>
<circle cx="264.4" cy="59.5" r="2.6"/>
<circle cx="265.4" cy="56.0" r="2.6"/>
<circle cx="264.8" cy="56.0" r="2.6"/>
<circle cx="264.7" cy="68.5" r="2.6"/>
<circle cx="266.1" cy="50.9" r="2.6"/>
<circle cx="265.6" cy="61.4" r="2.6"/>
<circle cx="266.4" cy="56.6" r="2.6"/>
<circle cx="267.2" cy="53.0" r="2.6"/>
<circle cx="266.9" cy="51.8" r="2.6"/>
<circle cx="266.5" cy="57.8" r="2.6"/>
<circle cx="268.1" cy="66.9" r="2.6"/>
<circle cx="267.7" cy="64.0" r="2.6"/>
<circle cx="267.6" cy="60.6" r="2.6"/>
<circle cx="269.0" cy="66.5" r="2.6"/>
<circle cx="268.9" cy="68.0" r="2.6"/>
<circle cx="269.5" cy="68.7" r="2.6"/>
<circle cx="269.8" cy="63.1" r="2.6"/>
<circle cx="270.2" cy="57.2" r="2.6"/>
<circle cx="270.1" cy="58.8" r="2.6"/>
<circle cx="271.1" cy="62.3" r="2.6"/>
<circle cx="270.8" cy="65.0" r="2.6"/>
<circle cx="272.1" cy="53.5" r="2.6"/>
<circle cx="272.1" cy="60.9" r="2.6"/>
<circle cx="271.9" cy="62.4" r="2.6"/>
<circle cx="272.9" cy="51.7" r="2.6"/>
<circle cx="272.7" cy="60.3" r="2.6"/>
<circle cx="274.0" cy="51.5" r="2.6"/>
<circle cx="274.3" cy="54.1" r="2.6"/>
<circle cx="275.0" cy="56.2" r="2.6"/>
<circle cx="275.1" cy="52.1" r="2.6"/>
<circle cx="275.8" cy="50.3" r="2.6"/>
<circle cx="275.9" cy="54.6" r="2.6"/>
<circle cx="276.7" cy="53.6" r="2.6"/>
<circle cx="278.2" cy="53.4" r="2.6"/>
<circle cx="278.6" cy="47.4" r="2.6"/>
<circle cx="279.7" cy="48.1" r="2.6"/>
<circle cx="195.8" cy="83.7" r="2.6"/>
<circle cx="204.4" cy="79.6" r="2.6"/>
<circle cx="206.4" cy="84.3" r="2.6"/>
<circle cx="215.6" cy="76.5" r="2.6"/>
<circle cx="228.9" cy="75.5" r="2.6"/>
<circle cx="235.0" cy="64.3" r="2.6"/>
<circle cx="251.4" cy="57.7" r="2.6"/>
<circle cx="257.5" cy="84.7" r="2.6"/>
<circle cx="255.5" cy="94.5" r="2.6"/>
<circle cx="273.9" cy="100.4" r="2.6"/>
<circle cx="282.0" cy="82.7" r="2.6"/>
<circle cx="290.2" cy="66.9" r="2.6"/>
<circle cx="296.4" cy="62.2" r="2.6"/>
<circle cx="297.4" cy="58.1" r="2.6"/>
<circle cx="295.3" cy="53.0" r="2.6"/>
<circle cx="280.0" cy="60.2" r="2.6"/>
<circle cx="282.0" cy="64.3" r="2.6"/>
<circle cx="286.0" cy="52.0" r="2.6"/>
<circle cx="270.8" cy="72.0" r="2.6"/>
<circle cx="244.2" cy="96.0" r="2.6"/>
<circle cx="245.3" cy="102.0" r="2.6"/>
<circle cx="255.5" cy="103.0" r="2.6"/>
<circle cx="258.6" cy="105.5" r="2.6"/>
<circle cx="264.7" cy="106.0" r="2.6"/>
<circle cx="137.5" cy="132.8" r="2.6"/>
<circle cx="146.7" cy="128.7" r="2.6"/>
<circle cx="197.7" cy="141.6" r="2.6"/>
<circle cx="213.7" cy="139.9" r="2.6"/>
<circle cx="234.5" cy="122.5" r="2.6"/>
<circle cx="231.5" cy="117.4" r="2.6"/>
<circle cx="142.6" cy="168.2" r="2.6"/>
<circle cx="153.9" cy="163.5" r="2.6"/>
<circle cx="169.2" cy="154.3" r="2.6"/>
<circle cx="180.4" cy="172.7" r="2.6"/>
<circle cx="187.6" cy="169.0" r="2.6"/>
<circle cx="85.4" cy="195.5" r="2.6"/>
<circle cx="106.9" cy="191.0" r="2.6"/>
<circle cx="308.6" cy="18.0" r="2.6"/>
<circle cx="312.0" cy="20.0" r="2.6"/>
<circle cx="316.8" cy="16.2" r="2.6"/>
<circle cx="314.0" cy="23.3" r="2.6"/>
<circle cx="310.0" cy="21.5" r="2.6"/>
<circle cx="325.0" cy="24.4" r="2.6"/>
<circle cx="282.0" cy="34.6" r="2.6"/>
<circle cx="290.0" cy="34.0" r="2.6"/>
<circle cx="294.0" cy="32.5" r="2.6"/>
<circle cx="298.4" cy="36.6" r="2.6"/>
<circle cx="292.0" cy="36.0" r="2.6"/>
<circle cx="274.9" cy="44.8" r="2.6"/>
<circle cx="278.0" cy="42.0" r="2.6"/>
<circle cx="280.0" cy="46.0" r="2.6"/>
<circle cx="306.6" cy="45.8" r="2.6"/>
<circle cx="313.7" cy="41.7" r="2.6"/>
<circle cx="291.2" cy="47.9" r="2.6"/>
<circle cx="284.0" cy="51.0" r="2.6"/>
<circle cx="288.0" cy="51.0" r="2.6"/>
<circle cx="315.5" cy="21.0" r="2.6"/>
<circle cx="289.0" cy="36.5" r="2.6"/>
</g>
<g clip-path="url(#ca)" fill="none">
<line x1="46.70" y1="233.15" x2="325.40" y2="7.70" stroke="#111" stroke-width="1.15"/>
<line x1="46.70" y1="227.47" x2="353.27" y2="-20.53" stroke="#d41820" stroke-width="1.25" stroke-dasharray="5.7 5.69"/>
<line x1="46.70" y1="238.83" x2="353.27" y2="-9.16" stroke="#d41820" stroke-width="1.25" stroke-dasharray="5.7 5.69"/>
</g>
<rect x="46.70" y="7.70" width="278.70" height="225.45" fill="none" stroke="#484848" stroke-width="1.2"/>
<line x1="74.57" y1="233.15" x2="74.57" y2="230.95" stroke="#333" stroke-width="1.2"/>
<line x1="46.70" y1="210.61" x2="48.90" y2="210.61" stroke="#333" stroke-width="1.2"/>
<line x1="102.44" y1="233.15" x2="102.44" y2="229.15" stroke="#333" stroke-width="1.2"/>
<line x1="46.70" y1="188.06" x2="50.70" y2="188.06" stroke="#333" stroke-width="1.2"/>
<line x1="130.31" y1="233.15" x2="130.31" y2="230.95" stroke="#333" stroke-width="1.2"/>
<line x1="46.70" y1="165.51" x2="48.90" y2="165.51" stroke="#333" stroke-width="1.2"/>
<line x1="158.18" y1="233.15" x2="158.18" y2="229.15" stroke="#333" stroke-width="1.2"/>
<line x1="46.70" y1="142.97" x2="50.70" y2="142.97" stroke="#333" stroke-width="1.2"/>
<line x1="186.05" y1="233.15" x2="186.05" y2="230.95" stroke="#333" stroke-width="1.2"/>
<line x1="46.70" y1="120.43" x2="48.90" y2="120.43" stroke="#333" stroke-width="1.2"/>
<line x1="213.92" y1="233.15" x2="213.92" y2="229.15" stroke="#333" stroke-width="1.2"/>
<line x1="46.70" y1="97.88" x2="50.70" y2="97.88" stroke="#333" stroke-width="1.2"/>
<line x1="241.79" y1="233.15" x2="241.79" y2="230.95" stroke="#333" stroke-width="1.2"/>
<line x1="46.70" y1="75.34" x2="48.90" y2="75.34" stroke="#333" stroke-width="1.2"/>
<line x1="269.66" y1="233.15" x2="269.66" y2="229.15" stroke="#333" stroke-width="1.2"/>
<line x1="46.70" y1="52.79" x2="50.70" y2="52.79" stroke="#333" stroke-width="1.2"/>
<line x1="297.53" y1="233.15" x2="297.53" y2="230.95" stroke="#333" stroke-width="1.2"/>
<line x1="46.70" y1="30.24" x2="48.90" y2="30.24" stroke="#333" stroke-width="1.2"/>
<g clip-path="url(#cb)" fill="#0072BD" fill-opacity="0.5">
<circle cx="485.3" cy="159.9" r="2.6"/>
<circle cx="537.3" cy="126.1" r="2.6"/>
<circle cx="482.9" cy="165.1" r="2.6"/>
<circle cx="525.2" cy="119.5" r="2.6"/>
<circle cx="485.5" cy="171.9" r="2.6"/>
<circle cx="530.5" cy="121.0" r="2.6"/>
<circle cx="549.9" cy="101.2" r="2.6"/>
<circle cx="511.6" cy="143.8" r="2.6"/>
<circle cx="507.2" cy="151.7" r="2.6"/>
<circle cx="487.4" cy="160.4" r="2.6"/>
<circle cx="517.4" cy="139.7" r="2.6"/>
<circle cx="512.5" cy="138.2" r="2.6"/>
<circle cx="530.2" cy="115.0" r="2.6"/>
<circle cx="518.9" cy="151.9" r="2.6"/>
<circle cx="530.4" cy="139.9" r="2.6"/>
<circle cx="510.0" cy="155.6" r="2.6"/>
<circle cx="514.0" cy="146.3" r="2.6"/>
<circle cx="512.8" cy="132.8" r="2.6"/>
<circle cx="483.0" cy="166.6" r="2.6"/>
<circle cx="529.5" cy="127.4" r="2.6"/>
<circle cx="522.6" cy="131.2" r="2.6"/>
<circle cx="490.4" cy="154.3" r="2.6"/>
<circle cx="495.0" cy="140.2" r="2.6"/>
<circle cx="502.2" cy="143.4" r="2.6"/>
<circle cx="514.0" cy="130.8" r="2.6"/>
<circle cx="499.9" cy="142.8" r="2.6"/>
<circle cx="511.1" cy="130.7" r="2.6"/>
<circle cx="528.6" cy="125.8" r="2.6"/>
<circle cx="495.7" cy="148.2" r="2.6"/>
<circle cx="524.9" cy="114.5" r="2.6"/>
<circle cx="505.2" cy="141.9" r="2.6"/>
<circle cx="525.9" cy="126.8" r="2.6"/>
<circle cx="518.9" cy="133.6" r="2.6"/>
<circle cx="500.0" cy="159.1" r="2.6"/>
<circle cx="504.7" cy="142.0" r="2.6"/>
<circle cx="549.3" cy="101.7" r="2.6"/>
<circle cx="538.6" cy="111.9" r="2.6"/>
<circle cx="530.3" cy="124.0" r="2.6"/>
<circle cx="532.0" cy="106.8" r="2.6"/>
<circle cx="506.3" cy="151.6" r="2.6"/>
<circle cx="559.8" cy="101.9" r="2.6"/>
<circle cx="536.7" cy="112.3" r="2.6"/>
<circle cx="555.5" cy="105.7" r="2.6"/>
<circle cx="531.6" cy="123.6" r="2.6"/>
<circle cx="493.3" cy="157.1" r="2.6"/>
<circle cx="522.7" cy="121.5" r="2.6"/>
<circle cx="530.6" cy="125.0" r="2.6"/>
<circle cx="545.7" cy="122.8" r="2.6"/>
<circle cx="532.5" cy="113.1" r="2.6"/>
<circle cx="507.2" cy="160.3" r="2.6"/>
<circle cx="492.8" cy="154.8" r="2.6"/>
<circle cx="526.3" cy="114.1" r="2.6"/>
<circle cx="490.5" cy="158.5" r="2.6"/>
<circle cx="529.2" cy="128.3" r="2.6"/>
<circle cx="458.5" cy="179.6" r="2.6"/>
<circle cx="537.5" cy="130.0" r="2.6"/>
<circle cx="504.3" cy="145.4" r="2.6"/>
<circle cx="528.4" cy="126.2" r="2.6"/>
<circle cx="550.4" cy="112.2" r="2.6"/>
<circle cx="557.5" cy="113.8" r="2.6"/>
<circle cx="502.9" cy="142.5" r="2.6"/>
<circle cx="547.3" cy="106.7" r="2.6"/>
<circle cx="521.0" cy="150.6" r="2.6"/>
<circle cx="497.3" cy="157.9" r="2.6"/>
<circle cx="501.5" cy="144.8" r="2.6"/>
<circle cx="506.1" cy="139.1" r="2.6"/>
<circle cx="515.9" cy="140.8" r="2.6"/>
<circle cx="516.7" cy="133.2" r="2.6"/>
<circle cx="534.1" cy="127.9" r="2.6"/>
<circle cx="508.5" cy="155.7" r="2.6"/>
<circle cx="551.5" cy="94.9" r="2.6"/>
<circle cx="509.8" cy="147.0" r="2.6"/>
<circle cx="485.1" cy="161.7" r="2.6"/>
<circle cx="519.7" cy="141.8" r="2.6"/>
<circle cx="456.8" cy="177.6" r="2.6"/>
<circle cx="518.4" cy="150.6" r="2.6"/>
<circle cx="518.2" cy="150.7" r="2.6"/>
<circle cx="540.2" cy="112.8" r="2.6"/>
<circle cx="511.0" cy="155.5" r="2.6"/>
<circle cx="492.7" cy="147.3" r="2.6"/>
<circle cx="552.4" cy="122.6" r="2.6"/>
<circle cx="478.1" cy="162.6" r="2.6"/>
<circle cx="533.9" cy="133.2" r="2.6"/>
<circle cx="497.7" cy="158.2" r="2.6"/>
<circle cx="486.2" cy="167.0" r="2.6"/>
<circle cx="543.2" cy="109.3" r="2.6"/>
<circle cx="562.1" cy="103.9" r="2.6"/>
<circle cx="510.8" cy="150.6" r="2.6"/>
<circle cx="511.1" cy="153.3" r="2.6"/>
<circle cx="472.4" cy="168.7" r="2.6"/>
<circle cx="547.7" cy="104.4" r="2.6"/>
<circle cx="545.2" cy="112.5" r="2.6"/>
<circle cx="497.2" cy="152.4" r="2.6"/>
<circle cx="505.2" cy="155.9" r="2.6"/>
<circle cx="474.4" cy="181.3" r="2.6"/>
<circle cx="513.9" cy="138.1" r="2.6"/>
<circle cx="502.9" cy="136.6" r="2.6"/>
<circle cx="518.2" cy="130.5" r="2.6"/>
<circle cx="542.5" cy="125.6" r="2.6"/>
<circle cx="467.9" cy="172.1" r="2.6"/>
<circle cx="497.9" cy="142.0" r="2.6"/>
<circle cx="521.9" cy="123.3" r="2.6"/>
<circle cx="530.8" cy="132.2" r="2.6"/>
<circle cx="496.3" cy="157.2" r="2.6"/>
<circle cx="532.0" cy="115.8" r="2.6"/>
<circle cx="537.6" cy="137.5" r="2.6"/>
<circle cx="511.6" cy="136.1" r="2.6"/>
<circle cx="496.1" cy="152.0" r="2.6"/>
<circle cx="519.4" cy="125.5" r="2.6"/>
<circle cx="494.8" cy="161.5" r="2.6"/>
<circle cx="496.1" cy="140.1" r="2.6"/>
<circle cx="539.5" cy="120.5" r="2.6"/>
<circle cx="519.3" cy="133.9" r="2.6"/>
<circle cx="518.7" cy="137.4" r="2.6"/>
<circle cx="506.2" cy="156.5" r="2.6"/>
<circle cx="499.0" cy="138.3" r="2.6"/>
<circle cx="526.5" cy="128.3" r="2.6"/>
<circle cx="509.0" cy="143.0" r="2.6"/>
<circle cx="522.3" cy="138.6" r="2.6"/>
<circle cx="518.6" cy="133.3" r="2.6"/>
<circle cx="496.5" cy="159.9" r="2.6"/>
<circle cx="490.6" cy="166.5" r="2.6"/>
<circle cx="507.7" cy="149.8" r="2.6"/>
<circle cx="499.5" cy="150.4" r="2.6"/>
<circle cx="540.4" cy="117.8" r="2.6"/>
<circle cx="510.7" cy="147.5" r="2.6"/>
<circle cx="511.0" cy="133.9" r="2.6"/>
<circle cx="504.8" cy="156.6" r="2.6"/>
<circle cx="484.4" cy="171.4" r="2.6"/>
<circle cx="481.5" cy="158.1" r="2.6"/>
<circle cx="522.3" cy="134.7" r="2.6"/>
<circle cx="548.1" cy="120.0" r="2.6"/>
<circle cx="531.6" cy="116.9" r="2.6"/>
<circle cx="477.8" cy="179.4" r="2.6"/>
<circle cx="492.3" cy="150.1" r="2.6"/>
<circle cx="544.3" cy="128.6" r="2.6"/>
<circle cx="538.5" cy="123.9" r="2.6"/>
<circle cx="504.8" cy="151.6" r="2.6"/>
<circle cx="506.4" cy="161.1" r="2.6"/>
<circle cx="490.6" cy="167.8" r="2.6"/>
<circle cx="506.1" cy="160.5" r="2.6"/>
<circle cx="504.5" cy="155.1" r="2.6"/>
<circle cx="560.4" cy="97.8" r="2.6"/>
<circle cx="496.9" cy="145.9" r="2.6"/>
<circle cx="526.5" cy="144.7" r="2.6"/>
<circle cx="501.6" cy="151.5" r="2.6"/>
<circle cx="514.4" cy="137.8" r="2.6"/>
<circle cx="506.1" cy="144.3" r="2.6"/>
<circle cx="500.3" cy="157.9" r="2.6"/>
<circle cx="549.4" cy="108.2" r="2.6"/>
<circle cx="524.2" cy="146.1" r="2.6"/>
<circle cx="510.1" cy="135.5" r="2.6"/>
<circle cx="483.8" cy="156.1" r="2.6"/>
<circle cx="504.9" cy="143.5" r="2.6"/>
<circle cx="510.9" cy="140.1" r="2.6"/>
<circle cx="542.1" cy="121.5" r="2.6"/>
<circle cx="550.6" cy="119.6" r="2.6"/>
<circle cx="492.2" cy="151.7" r="2.6"/>
<circle cx="489.0" cy="162.4" r="2.6"/>
<circle cx="535.2" cy="110.0" r="2.6"/>
<circle cx="472.5" cy="169.9" r="2.6"/>
<circle cx="558.1" cy="92.7" r="2.6"/>
<circle cx="508.4" cy="149.2" r="2.6"/>
<circle cx="507.0" cy="155.0" r="2.6"/>
<circle cx="507.8" cy="146.1" r="2.6"/>
<circle cx="510.6" cy="131.9" r="2.6"/>
<circle cx="508.6" cy="156.4" r="2.6"/>
<circle cx="538.6" cy="130.9" r="2.6"/>
<circle cx="503.5" cy="149.1" r="2.6"/>
<circle cx="505.9" cy="154.5" r="2.6"/>
<circle cx="499.8" cy="152.1" r="2.6"/>
<circle cx="540.3" cy="111.0" r="2.6"/>
<circle cx="531.8" cy="116.1" r="2.6"/>
<circle cx="467.9" cy="182.2" r="2.6"/>
<circle cx="517.0" cy="132.3" r="2.6"/>
<circle cx="544.3" cy="110.9" r="2.6"/>
<circle cx="508.4" cy="143.7" r="2.6"/>
<circle cx="509.0" cy="141.3" r="2.6"/>
<circle cx="529.8" cy="129.6" r="2.6"/>
<circle cx="495.0" cy="161.6" r="2.6"/>
<circle cx="539.6" cy="105.9" r="2.6"/>
<circle cx="537.2" cy="112.1" r="2.6"/>
<circle cx="533.5" cy="123.6" r="2.6"/>
<circle cx="529.5" cy="136.9" r="2.6"/>
<circle cx="509.2" cy="149.7" r="2.6"/>
<circle cx="531.0" cy="131.1" r="2.6"/>
<circle cx="511.5" cy="138.0" r="2.6"/>
<circle cx="545.7" cy="123.1" r="2.6"/>
<circle cx="492.0" cy="151.0" r="2.6"/>
<circle cx="488.1" cy="157.1" r="2.6"/>
<circle cx="500.6" cy="151.1" r="2.6"/>
<circle cx="471.4" cy="169.4" r="2.6"/>
<circle cx="502.3" cy="156.4" r="2.6"/>
<circle cx="562.6" cy="94.6" r="2.6"/>
<circle cx="523.5" cy="134.8" r="2.6"/>
<circle cx="516.5" cy="122.6" r="2.6"/>
<circle cx="513.4" cy="135.9" r="2.6"/>
<circle cx="526.1" cy="138.1" r="2.6"/>
<circle cx="517.0" cy="141.5" r="2.6"/>
<circle cx="484.8" cy="156.8" r="2.6"/>
<circle cx="529.6" cy="125.7" r="2.6"/>
<circle cx="525.3" cy="130.9" r="2.6"/>
<circle cx="474.6" cy="171.8" r="2.6"/>
<circle cx="478.4" cy="168.5" r="2.6"/>
<circle cx="517.3" cy="133.4" r="2.6"/>
<circle cx="519.1" cy="133.6" r="2.6"/>
<circle cx="487.3" cy="163.9" r="2.6"/>
<circle cx="502.0" cy="151.1" r="2.6"/>
<circle cx="520.3" cy="128.3" r="2.6"/>
<circle cx="523.4" cy="133.5" r="2.6"/>
<circle cx="535.8" cy="138.6" r="2.6"/>
<circle cx="523.4" cy="136.5" r="2.6"/>
<circle cx="537.2" cy="131.6" r="2.6"/>
<circle cx="511.6" cy="142.5" r="2.6"/>
<circle cx="511.7" cy="146.4" r="2.6"/>
<circle cx="471.0" cy="171.4" r="2.6"/>
<circle cx="537.4" cy="121.5" r="2.6"/>
<circle cx="490.2" cy="157.2" r="2.6"/>
<circle cx="527.2" cy="130.1" r="2.6"/>
<circle cx="513.7" cy="127.1" r="2.6"/>
<circle cx="487.8" cy="164.8" r="2.6"/>
<circle cx="469.4" cy="180.0" r="2.6"/>
<circle cx="496.7" cy="161.1" r="2.6"/>
<circle cx="497.8" cy="138.3" r="2.6"/>
<circle cx="509.4" cy="144.2" r="2.6"/>
<circle cx="512.6" cy="156.0" r="2.6"/>
<circle cx="523.4" cy="140.5" r="2.6"/>
<circle cx="552.3" cy="123.4" r="2.6"/>
<circle cx="500.4" cy="163.6" r="2.6"/>
<circle cx="516.3" cy="146.7" r="2.6"/>
<circle cx="512.5" cy="144.0" r="2.6"/>
<circle cx="499.6" cy="143.5" r="2.6"/>
<circle cx="535.9" cy="121.2" r="2.6"/>
<circle cx="492.9" cy="164.8" r="2.6"/>
<circle cx="503.3" cy="154.7" r="2.6"/>
<circle cx="497.7" cy="161.4" r="2.6"/>
<circle cx="491.2" cy="159.5" r="2.6"/>
<circle cx="547.5" cy="113.4" r="2.6"/>
<circle cx="502.0" cy="162.5" r="2.6"/>
<circle cx="519.0" cy="135.5" r="2.6"/>
<circle cx="485.3" cy="170.6" r="2.6"/>
<circle cx="513.0" cy="131.2" r="2.6"/>
<circle cx="528.6" cy="125.2" r="2.6"/>
<circle cx="506.4" cy="142.9" r="2.6"/>
<circle cx="487.5" cy="163.7" r="2.6"/>
<circle cx="543.7" cy="119.0" r="2.6"/>
<circle cx="547.3" cy="114.0" r="2.6"/>
<circle cx="517.4" cy="140.0" r="2.6"/>
<circle cx="481.7" cy="172.5" r="2.6"/>
<circle cx="529.1" cy="120.8" r="2.6"/>
<circle cx="536.3" cy="115.7" r="2.6"/>
<circle cx="537.9" cy="123.1" r="2.6"/>
<circle cx="508.8" cy="135.2" r="2.6"/>
<circle cx="505.7" cy="157.4" r="2.6"/>
<circle cx="508.7" cy="148.5" r="2.6"/>
<circle cx="528.3" cy="134.5" r="2.6"/>
<circle cx="489.2" cy="162.1" r="2.6"/>
<circle cx="550.3" cy="111.9" r="2.6"/>
<circle cx="517.8" cy="136.2" r="2.6"/>
<circle cx="520.9" cy="124.9" r="2.6"/>
<circle cx="546.6" cy="131.5" r="2.6"/>
<circle cx="545.8" cy="114.7" r="2.6"/>
<circle cx="510.0" cy="125.7" r="2.6"/>
<circle cx="536.6" cy="131.8" r="2.6"/>
<circle cx="525.4" cy="122.8" r="2.6"/>
<circle cx="505.9" cy="147.6" r="2.6"/>
<circle cx="488.1" cy="147.0" r="2.6"/>
<circle cx="508.3" cy="147.5" r="2.6"/>
<circle cx="507.0" cy="151.9" r="2.6"/>
<circle cx="495.8" cy="153.5" r="2.6"/>
<circle cx="521.3" cy="138.1" r="2.6"/>
<circle cx="511.9" cy="153.4" r="2.6"/>
<circle cx="526.2" cy="136.5" r="2.6"/>
<circle cx="519.0" cy="143.6" r="2.6"/>
<circle cx="501.9" cy="147.5" r="2.6"/>
<circle cx="513.1" cy="140.8" r="2.6"/>
<circle cx="496.8" cy="140.8" r="2.6"/>
<circle cx="546.4" cy="111.1" r="2.6"/>
<circle cx="482.0" cy="169.0" r="2.6"/>
<circle cx="528.4" cy="132.4" r="2.6"/>
<circle cx="486.3" cy="170.6" r="2.6"/>
<circle cx="495.9" cy="154.0" r="2.6"/>
<circle cx="498.8" cy="151.6" r="2.6"/>
<circle cx="555.5" cy="119.0" r="2.6"/>
<circle cx="522.0" cy="131.9" r="2.6"/>
<circle cx="510.8" cy="132.9" r="2.6"/>
<circle cx="506.2" cy="148.5" r="2.6"/>
<circle cx="505.2" cy="147.4" r="2.6"/>
<circle cx="544.1" cy="107.8" r="2.6"/>
<circle cx="482.6" cy="168.0" r="2.6"/>
<circle cx="495.3" cy="148.2" r="2.6"/>
<circle cx="519.2" cy="126.8" r="2.6"/>
<circle cx="512.5" cy="157.5" r="2.6"/>
<circle cx="524.5" cy="128.4" r="2.6"/>
<circle cx="525.9" cy="142.1" r="2.6"/>
<circle cx="515.9" cy="144.0" r="2.6"/>
<circle cx="497.9" cy="149.7" r="2.6"/>
<circle cx="522.2" cy="141.0" r="2.6"/>
<circle cx="500.5" cy="141.2" r="2.6"/>
<circle cx="493.8" cy="152.6" r="2.6"/>
<circle cx="553.1" cy="96.8" r="2.6"/>
<circle cx="522.6" cy="130.4" r="2.6"/>
<circle cx="489.2" cy="162.9" r="2.6"/>
<circle cx="506.2" cy="152.4" r="2.6"/>
<circle cx="515.5" cy="141.7" r="2.6"/>
<circle cx="521.9" cy="119.3" r="2.6"/>
<circle cx="531.3" cy="120.9" r="2.6"/>
<circle cx="508.4" cy="157.2" r="2.6"/>
<circle cx="511.3" cy="136.8" r="2.6"/>
<circle cx="490.4" cy="149.1" r="2.6"/>
<circle cx="506.2" cy="142.6" r="2.6"/>
<circle cx="506.3" cy="156.4" r="2.6"/>
<circle cx="562.4" cy="115.7" r="2.6"/>
<circle cx="535.5" cy="127.8" r="2.6"/>
<circle cx="520.5" cy="141.5" r="2.6"/>
<circle cx="504.2" cy="139.7" r="2.6"/>
<circle cx="559.5" cy="114.2" r="2.6"/>
<circle cx="514.2" cy="130.7" r="2.6"/>
<circle cx="499.2" cy="145.7" r="2.6"/>
<circle cx="495.6" cy="149.6" r="2.6"/>
<circle cx="524.2" cy="119.3" r="2.6"/>
<circle cx="522.5" cy="143.6" r="2.6"/>
<circle cx="529.5" cy="137.4" r="2.6"/>
<circle cx="531.5" cy="109.8" r="2.6"/>
<circle cx="527.9" cy="133.2" r="2.6"/>
<circle cx="541.9" cy="115.8" r="2.6"/>
<circle cx="484.9" cy="165.6" r="2.6"/>
<circle cx="547.2" cy="116.9" r="2.6"/>
<circle cx="516.8" cy="140.1" r="2.6"/>
<circle cx="474.5" cy="174.8" r="2.6"/>
<circle cx="522.3" cy="130.5" r="2.6"/>
<circle cx="542.6" cy="109.5" r="2.6"/>
<circle cx="537.9" cy="107.0" r="2.6"/>
<circle cx="503.6" cy="153.0" r="2.6"/>
<circle cx="521.3" cy="117.5" r="2.6"/>
<circle cx="474.6" cy="172.9" r="2.6"/>
<circle cx="497.3" cy="148.6" r="2.6"/>
<circle cx="548.2" cy="116.1" r="2.6"/>
<circle cx="485.0" cy="162.6" r="2.6"/>
<circle cx="507.3" cy="158.1" r="2.6"/>
<circle cx="534.7" cy="128.0" r="2.6"/>
<circle cx="530.0" cy="139.1" r="2.6"/>
<circle cx="539.6" cy="134.0" r="2.6"/>
<circle cx="538.6" cy="138.4" r="2.6"/>
<circle cx="546.3" cy="118.3" r="2.6"/>
<circle cx="477.6" cy="170.6" r="2.6"/>
<circle cx="521.9" cy="142.2" r="2.6"/>
<circle cx="502.4" cy="146.6" r="2.6"/>
<circle cx="503.9" cy="144.1" r="2.6"/>
<circle cx="520.9" cy="124.1" r="2.6"/>
<circle cx="532.7" cy="121.0" r="2.6"/>
<circle cx="539.4" cy="109.5" r="2.6"/>
<circle cx="516.4" cy="143.1" r="2.6"/>
<circle cx="537.9" cy="116.0" r="2.6"/>
<circle cx="469.7" cy="182.3" r="2.6"/>
<circle cx="524.9" cy="129.2" r="2.6"/>
<circle cx="520.5" cy="127.9" r="2.6"/>
<circle cx="517.4" cy="122.0" r="2.6"/>
<circle cx="500.2" cy="153.9" r="2.6"/>
<circle cx="521.5" cy="126.1" r="2.6"/>
<circle cx="532.4" cy="109.4" r="2.6"/>
<circle cx="502.8" cy="138.8" r="2.6"/>
<circle cx="524.9" cy="140.3" r="2.6"/>
<circle cx="532.4" cy="129.1" r="2.6"/>
<circle cx="457.9" cy="189.3" r="2.6"/>
<circle cx="497.5" cy="152.2" r="2.6"/>
<circle cx="531.4" cy="121.9" r="2.6"/>
<circle cx="492.1" cy="166.3" r="2.6"/>
<circle cx="509.1" cy="147.5" r="2.6"/>
<circle cx="504.5" cy="152.3" r="2.6"/>
<circle cx="540.4" cy="117.8" r="2.6"/>
<circle cx="485.1" cy="153.6" r="2.6"/>
<circle cx="506.7" cy="156.7" r="2.6"/>
<circle cx="521.5" cy="128.5" r="2.6"/>
<circle cx="506.1" cy="140.0" r="2.6"/>
<circle cx="533.2" cy="132.6" r="2.6"/>
<circle cx="511.0" cy="131.1" r="2.6"/>
<circle cx="537.4" cy="106.5" r="2.6"/>
<circle cx="557.4" cy="106.1" r="2.6"/>
<circle cx="538.7" cy="135.5" r="2.6"/>
<circle cx="578.0" cy="88.1" r="2.6"/>
<circle cx="594.9" cy="84.3" r="2.6"/>
<circle cx="584.2" cy="81.3" r="2.6"/>
<circle cx="569.7" cy="95.0" r="2.6"/>
<circle cx="595.0" cy="81.3" r="2.6"/>
<circle cx="551.0" cy="119.6" r="2.6"/>
<circle cx="569.9" cy="94.0" r="2.6"/>
<circle cx="575.4" cy="82.4" r="2.6"/>
<circle cx="545.7" cy="112.8" r="2.6"/>
<circle cx="593.6" cy="70.4" r="2.6"/>
<circle cx="585.6" cy="75.8" r="2.6"/>
<circle cx="552.4" cy="99.6" r="2.6"/>
<circle cx="577.7" cy="87.6" r="2.6"/>
<circle cx="591.2" cy="76.7" r="2.6"/>
<circle cx="556.1" cy="101.8" r="2.6"/>
<circle cx="591.2" cy="60.6" r="2.6"/>
<circle cx="560.3" cy="94.8" r="2.6"/>
<circle cx="580.9" cy="87.0" r="2.6"/>
<circle cx="555.9" cy="97.2" r="2.6"/>
<circle cx="596.2" cy="76.1" r="2.6"/>
<circle cx="592.4" cy="77.6" r="2.6"/>
<circle cx="553.8" cy="101.9" r="2.6"/>
<circle cx="552.7" cy="103.5" r="2.6"/>
<circle cx="577.0" cy="86.5" r="2.6"/>
<circle cx="545.2" cy="116.5" r="2.6"/>
<circle cx="561.4" cy="105.8" r="2.6"/>
<circle cx="588.4" cy="84.3" r="2.6"/>
<circle cx="570.5" cy="93.1" r="2.6"/>
<circle cx="582.3" cy="69.2" r="2.6"/>
<circle cx="546.2" cy="107.8" r="2.6"/>
<circle cx="584.7" cy="81.5" r="2.6"/>
<circle cx="586.8" cy="81.4" r="2.6"/>
<circle cx="564.4" cy="99.3" r="2.6"/>
<circle cx="547.5" cy="112.7" r="2.6"/>
<circle cx="554.6" cy="102.9" r="2.6"/>
<circle cx="585.1" cy="83.0" r="2.6"/>
<circle cx="594.3" cy="69.4" r="2.6"/>
<circle cx="563.8" cy="101.0" r="2.6"/>
<circle cx="572.8" cy="91.4" r="2.6"/>
<circle cx="584.7" cy="85.0" r="2.6"/>
<circle cx="637.1" cy="35.2" r="2.6"/>
<circle cx="635.6" cy="42.8" r="2.6"/>
<circle cx="614.6" cy="53.0" r="2.6"/>
<circle cx="617.7" cy="57.1" r="2.6"/>
<circle cx="627.5" cy="54.4" r="2.6"/>
<circle cx="602.3" cy="57.1" r="2.6"/>
<circle cx="608.5" cy="62.0" r="2.6"/>
<circle cx="646.3" cy="61.2" r="2.6"/>
<circle cx="562.5" cy="65.9" r="2.6"/>
<circle cx="566.2" cy="67.9" r="2.6"/>
<circle cx="577.2" cy="66.3" r="2.6"/>
<circle cx="577.2" cy="71.4" r="2.6"/>
<circle cx="590.0" cy="64.3" r="2.6"/>
<circle cx="596.2" cy="64.7" r="2.6"/>
<circle cx="599.3" cy="66.3" r="2.6"/>
<circle cx="601.3" cy="63.2" r="2.6"/>
<circle cx="603.4" cy="70.4" r="2.6"/>
<circle cx="605.4" cy="68.3" r="2.6"/>
<circle cx="609.5" cy="64.3" r="2.6"/>
<circle cx="610.5" cy="71.4" r="2.6"/>
<circle cx="615.6" cy="68.3" r="2.6"/>
<circle cx="608.5" cy="80.6" r="2.6"/>
<circle cx="587.0" cy="73.5" r="2.6"/>
<circle cx="590.7" cy="74.1" r="2.6"/>
<circle cx="544.5" cy="79.6" r="2.6"/>
<circle cx="560.4" cy="78.6" r="2.6"/>
<circle cx="568.6" cy="77.5" r="2.6"/>
<circle cx="561.5" cy="83.7" r="2.6"/>
<circle cx="575.8" cy="83.7" r="2.6"/>
<circle cx="580.9" cy="84.7" r="2.6"/>
<circle cx="589.0" cy="83.7" r="2.6"/>
<circle cx="594.2" cy="81.6" r="2.6"/>
<circle cx="598.2" cy="80.6" r="2.6"/>
<circle cx="564.5" cy="88.4" r="2.6"/>
<circle cx="568.6" cy="89.8" r="2.6"/>
<circle cx="544.1" cy="90.8" r="2.6"/>
<circle cx="549.2" cy="94.9" r="2.6"/>
<circle cx="552.3" cy="98.0" r="2.6"/>
<circle cx="584.0" cy="90.8" r="2.6"/>
<circle cx="587.0" cy="92.9" r="2.6"/>
<circle cx="599.3" cy="97.0" r="2.6"/>
<circle cx="597.2" cy="102.0" r="2.6"/>
<circle cx="601.3" cy="106.2" r="2.6"/>
<circle cx="542.0" cy="103.0" r="2.6"/>
<circle cx="546.1" cy="105.5" r="2.6"/>
<circle cx="536.1" cy="91.2" r="2.6"/>
<circle cx="510.5" cy="103.1" r="2.6"/>
<circle cx="521.7" cy="103.1" r="2.6"/>
<circle cx="525.4" cy="103.1" r="2.6"/>
<circle cx="508.8" cy="122.5" r="2.6"/>
<circle cx="544.6" cy="138.9" r="2.6"/>
<circle cx="553.8" cy="140.3" r="2.6"/>
<circle cx="543.6" cy="145.6" r="2.6"/>
<circle cx="565.0" cy="132.2" r="2.6"/>
<circle cx="593.6" cy="121.1" r="2.6"/>
<circle cx="472.0" cy="150.5" r="2.6"/>
<circle cx="558.9" cy="128.7" r="2.6"/>
<circle cx="571.2" cy="121.5" r="2.6"/>
<circle cx="568.1" cy="117.4" r="2.6"/>
<circle cx="560.0" cy="113.3" r="2.6"/>
<circle cx="506.9" cy="177.8" r="2.6"/>
<circle cx="485.4" cy="186.6" r="2.6"/>
<circle cx="460.9" cy="195.5" r="2.6"/>
<circle cx="449.6" cy="190.0" r="2.6"/>
<circle cx="533.4" cy="152.6" r="2.6"/>
<circle cx="454.2" cy="186.6" r="2.6"/>
<circle cx="461.3" cy="187.2" r="2.6"/>
<circle cx="469.5" cy="180.0" r="2.6"/>
<circle cx="476.6" cy="178.0" r="2.6"/>
<circle cx="480.7" cy="180.5" r="2.6"/>
</g>
<g clip-path="url(#cb)" fill="none">
<line x1="399.80" y1="233.35" x2="678.30" y2="7.70" stroke="#111" stroke-width="1.15"/>
<line x1="399.80" y1="222.92" x2="706.15" y2="-25.29" stroke="#d41820" stroke-width="1.25" stroke-dasharray="5.7 5.69"/>
<line x1="399.80" y1="243.78" x2="706.15" y2="-4.44" stroke="#d41820" stroke-width="1.25" stroke-dasharray="5.7 5.69"/>
</g>
<rect x="399.80" y="7.70" width="278.50" height="225.65" fill="none" stroke="#484848" stroke-width="1.2"/>
<line x1="427.65" y1="233.35" x2="427.65" y2="231.15" stroke="#333" stroke-width="1.2"/>
<line x1="399.80" y1="210.78" x2="402.00" y2="210.78" stroke="#333" stroke-width="1.2"/>
<line x1="455.50" y1="233.35" x2="455.50" y2="229.35" stroke="#333" stroke-width="1.2"/>
<line x1="399.80" y1="188.22" x2="403.80" y2="188.22" stroke="#333" stroke-width="1.2"/>
<line x1="483.35" y1="233.35" x2="483.35" y2="231.15" stroke="#333" stroke-width="1.2"/>
<line x1="399.80" y1="165.65" x2="402.00" y2="165.65" stroke="#333" stroke-width="1.2"/>
<line x1="511.20" y1="233.35" x2="511.20" y2="229.35" stroke="#333" stroke-width="1.2"/>
<line x1="399.80" y1="143.09" x2="403.80" y2="143.09" stroke="#333" stroke-width="1.2"/>
<line x1="539.05" y1="233.35" x2="539.05" y2="231.15" stroke="#333" stroke-width="1.2"/>
<line x1="399.80" y1="120.52" x2="402.00" y2="120.52" stroke="#333" stroke-width="1.2"/>
<line x1="566.90" y1="233.35" x2="566.90" y2="229.35" stroke="#333" stroke-width="1.2"/>
<line x1="399.80" y1="97.96" x2="403.80" y2="97.96" stroke="#333" stroke-width="1.2"/>
<line x1="594.75" y1="233.35" x2="594.75" y2="231.15" stroke="#333" stroke-width="1.2"/>
<line x1="399.80" y1="75.40" x2="402.00" y2="75.40" stroke="#333" stroke-width="1.2"/>
<line x1="622.60" y1="233.35" x2="622.60" y2="229.35" stroke="#333" stroke-width="1.2"/>
<line x1="399.80" y1="52.83" x2="403.80" y2="52.83" stroke="#333" stroke-width="1.2"/>
<line x1="650.45" y1="233.35" x2="650.45" y2="231.15" stroke="#333" stroke-width="1.2"/>
<line x1="399.80" y1="30.26" x2="402.00" y2="30.26" stroke="#333" stroke-width="1.2"/>
<text x="20.70" y="20.00" font-size="15.3">10</text>
<text x="31.60" y="7.10" font-size="11">−2</text>
<text x="20.70" y="63.60" font-size="15.3">10</text>
<text x="31.60" y="51.60" font-size="11">−3</text>
<text x="20.70" y="108.60" font-size="15.3">10</text>
<text x="31.60" y="96.60" font-size="11">−4</text>
<text x="20.70" y="153.60" font-size="15.3">10</text>
<text x="31.60" y="141.60" font-size="11">−5</text>
<text x="20.70" y="198.10" font-size="15.3">10</text>
<text x="31.60" y="186.50" font-size="11">−6</text>
<text x="20.70" y="242.20" font-size="15.3">10</text>
<text x="31.60" y="231.60" font-size="11">−7</text>
<text x="26.50" y="254.5" font-size="15">10</text>
<text x="41.90" y="245.3" font-size="11">−7</text>
<text x="81.88" y="254.5" font-size="15">10</text>
<text x="97.64" y="245.3" font-size="11">−6</text>
<text x="137.26" y="254.5" font-size="15">10</text>
<text x="153.38" y="245.3" font-size="11">−5</text>
<text x="192.64" y="254.5" font-size="15">10</text>
<text x="209.12" y="245.3" font-size="11">−4</text>
<text x="248.02" y="254.5" font-size="15">10</text>
<text x="264.86" y="245.3" font-size="11">−3</text>
<text x="303.40" y="254.5" font-size="15">10</text>
<text x="320.60" y="245.3" font-size="11">−2</text>
<text x="373.80" y="20.00" font-size="15.3">10</text>
<text x="384.70" y="7.10" font-size="11">−2</text>
<text x="373.80" y="63.60" font-size="15.3">10</text>
<text x="384.70" y="51.60" font-size="11">−3</text>
<text x="373.80" y="108.60" font-size="15.3">10</text>
<text x="384.70" y="96.60" font-size="11">−4</text>
<text x="373.80" y="153.60" font-size="15.3">10</text>
<text x="384.70" y="141.60" font-size="11">−5</text>
<text x="373.80" y="198.10" font-size="15.3">10</text>
<text x="384.70" y="186.50" font-size="11">−6</text>
<text x="373.80" y="242.20" font-size="15.3">10</text>
<text x="384.70" y="231.60" font-size="11">−7</text>
<text x="381.60" y="254.5" font-size="15">10</text>
<text x="395.00" y="245.3" font-size="11">−7</text>
<text x="436.98" y="254.5" font-size="15">10</text>
<text x="450.70" y="245.3" font-size="11">−6</text>
<text x="492.36" y="254.5" font-size="15">10</text>
<text x="506.40" y="245.3" font-size="11">−5</text>
<text x="547.74" y="254.5" font-size="15">10</text>
<text x="562.10" y="245.3" font-size="11">−4</text>
<text x="603.12" y="254.5" font-size="15">10</text>
<text x="617.80" y="245.3" font-size="11">−3</text>
<text x="658.50" y="254.5" font-size="15">10</text>
<text x="673.50" y="245.3" font-size="11">−2</text>
<rect x="53.20" y="13.40" width="100.3" height="43.7" fill="#fff" stroke="#666" stroke-width="0.9"/>
<circle cx="68.10" cy="21.50" r="2.6" fill="#0072BD" fill-opacity="0.5"/>
<text x="83.00" y="25.30" font-size="12.2">Data</text>
<line x1="54.40" y1="35.40" x2="81.00" y2="35.40" stroke="#555" stroke-width="0.8"/>
<text x="83.00" y="39.20" font-size="12.2">1:1 line</text>
<line x1="54.50" y1="49.70" x2="81.60" y2="49.70" stroke="#e02a2a" stroke-width="1.5" stroke-dasharray="4.7 3.2"/>
<text x="82.60" y="53.70" font-size="11.85">±1 SD of error</text>
<rect x="406.10" y="12.60" width="100.3" height="44.2" fill="#fff" stroke="#666" stroke-width="0.9"/>
<circle cx="421.00" cy="20.70" r="2.6" fill="#0072BD" fill-opacity="0.5"/>
<text x="436.50" y="24.50" font-size="12.2">Data</text>
<line x1="407.50" y1="34.60" x2="433.70" y2="34.60" stroke="#bbb" stroke-width="1.3"/>
<text x="436.50" y="38.40" font-size="12.2">1:1 line</text>
<line x1="407.40" y1="48.90" x2="434.50" y2="48.90" stroke="#e02a2a" stroke-width="1.5" stroke-dasharray="4.7 3.2"/>
<text x="436.10" y="52.90" font-size="11.85">±1 SD of error</text>
<text x="-0.6" y="11.4" font-size="16.2">(a)</text>
<text x="351.4" y="11.4" font-size="16.2">(b)</text>
<text x="235.5" y="196.9" font-size="14.9">Training set</text>
<text x="235" y="215.3" font-size="14.8">σ =0.126</text>
<text x="610.4" y="196.9" font-size="15.0">Test set</text>
<text x="610.3" y="215.7" font-size="14.6">σ =0.231</text>
<text x="153.3" y="270.8" font-size="14.9">True MDR</text>
<text x="506.5" y="270.8" font-size="14.9">True MDR</text>
<text transform="translate(13.8,175.4) rotate(-90)" font-size="14.8">Predicted MDR</text>
<text transform="translate(366.6,175.6) rotate(-90)" font-size="14.8">Predicted MDR</text>
</svg></body></html>
